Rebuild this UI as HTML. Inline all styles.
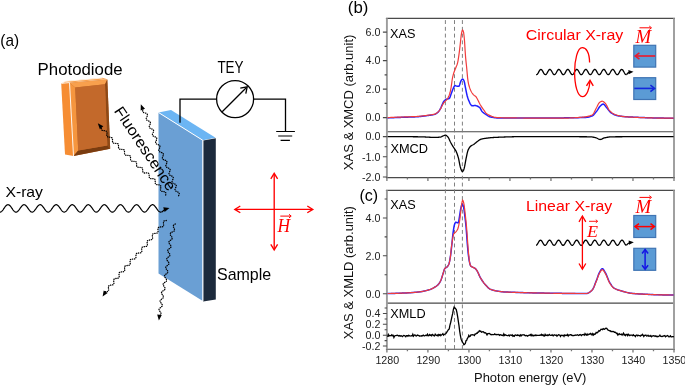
<!DOCTYPE html>
<html><head><meta charset="utf-8"><title>XAS figure</title>
<style>
html,body{margin:0;padding:0;background:#fff;}
body{width:685px;height:385px;overflow:hidden;}
svg{display:block;will-change:transform;}
text{font-family:"Liberation Sans",sans-serif;}
</style></head>
<body>
<svg width="685" height="385" viewBox="0 0 685 385">
<rect width="685" height="385" fill="#fff"/>
<text x="0.3" y="45.8" font-size="17" fill="#000" text-anchor="start" textLength="18.8" lengthAdjust="spacingAndGlyphs" >(a)</text>
<text x="37.6" y="74.5" font-size="15.8" fill="#000" text-anchor="start" textLength="85" lengthAdjust="spacingAndGlyphs" >Photodiode</text>
<text x="217.4" y="72.7" font-size="15.8" fill="#000" text-anchor="start" textLength="26.2" lengthAdjust="spacingAndGlyphs" >TEY</text>
<text x="5.4" y="196.7" font-size="15" fill="#000" text-anchor="start" textLength="37.6" lengthAdjust="spacingAndGlyphs" >X-ray</text>
<text x="217" y="280.1" font-size="16.4" fill="#000" text-anchor="start" textLength="54.2" lengthAdjust="spacingAndGlyphs" >Sample</text>
<polygon points="61.2,83.2 69.5,82.3 73.5,156 65,154.6" fill="#f68d33" />
<polygon points="69.5,82.7 107.3,79.4 110.2,148.8 73.5,156" fill="#c3692b" />
<polygon points="69.5,82.7 107.3,79.4 105,84.2 75.2,87.6" fill="#f8a04d" />
<polygon points="69.5,82.7 75.2,87.6 78.2,150.6 73.5,156" fill="#f5963f" />
<polygon points="107.3,79.4 110.2,148.8 107.3,145.6 105,84.2" fill="#8e4916" />
<polygon points="73.5,156 78.2,150.6 107.3,145.6 110.2,148.8" fill="#7a3c10" />
<polygon points="75.2,87.6 105,84.2 107.3,145.6 78.2,150.6" fill="#c3692b" />
<path d="M69.5,82.3 L73.5,156" stroke="#fff" stroke-width="0.9"/>
<polygon points="61.2,83.4 65.8,81.2 102.5,77.8 107.3,79.2 69.5,82.6" fill="#f9a24f" />
<path d="M62,82.9 L65.8,81.3 L102.5,78" stroke="#fff3e6" stroke-width="0.9" fill="none"/>
<path d="M61.4,83.4 L69.5,82.6" stroke="#fff" stroke-width="0.8" fill="none"/>
<polygon points="158.5,112.5 171,110 215.6,137.8 202.8,140.3" fill="#6cb5f3" />
<polygon points="158.5,112.5 202.8,140.3 202.8,301 158.5,273.6" fill="#6a9fd4" />
<polygon points="203.2,140.6 215.8,138.3 215.8,299.6 203.2,301.4" fill="#1c2a3c" />
<path d="M158.5,112.5 L202.8,140.3 L202.8,301" stroke="#fff" stroke-width="1" fill="none"/>
<path d="M180,122.8 L180,99.1 L216.5,99.1 M253.7,99.1 L285.5,99.1 L285.5,131.5" stroke="#000" stroke-width="1.3" fill="none"/>
<circle cx="235.1" cy="99.1" r="18.5" stroke="#000" stroke-width="1.3" fill="none"/>
<path d="M222.2,111.8 L246.5,87.5" stroke="#000" stroke-width="1.3"/>
<path d="M240.3,88.2 L247.2,86.8 L245.8,93.7" stroke="#000" stroke-width="1.3" fill="none"/>
<path d="M276.2,131.5 L294.9,131.5 M278.2,136 L292.2,136 M280.6,140.4 L289.9,140.4" stroke="#000" stroke-width="1.2"/>
<path d="M0,212.1 L0.4,212.05 L0.8,211.91 L1.2,211.68 L1.6,211.37 L2,210.99 L2.4,210.55 L2.8,210.05 L3.2,209.52 L3.6,208.96 L4,208.38 L4.4,207.8 L4.8,207.24 L5.2,206.71 L5.6,206.21 L6,205.78 L6.4,205.4 L6.8,205.1 L7.2,204.88 L7.6,204.75 L8,204.7 L8.4,204.75 L8.8,204.88 L9.2,205.1 L9.6,205.4 L10,205.78 L10.4,206.21 L10.8,206.71 L11.2,207.24 L11.6,207.8 L12,208.38 L12.4,208.96 L12.8,209.52 L13.2,210.05 L13.6,210.55 L14,210.99 L14.4,211.37 L14.8,211.68 L15.2,211.91 L15.6,212.05 L16,212.1 L16.4,212.06 L16.8,211.93 L17.2,211.72 L17.6,211.42 L18,211.05 L18.4,210.62 L18.8,210.13 L19.2,209.6 L19.6,209.04 L20,208.47 L20.4,207.89 L20.8,207.32 L21.2,206.78 L21.6,206.29 L22,205.84 L22.4,205.45 L22.8,205.14 L23.2,204.91 L23.6,204.76 L24,204.7 L24.4,204.73 L24.8,204.85 L25.2,205.06 L25.6,205.35 L26,205.72 L26.4,206.15 L26.8,206.63 L27.2,207.16 L27.6,207.72 L28,208.29 L28.4,208.87 L28.8,209.44 L29.2,209.98 L29.6,210.48 L30,210.93 L30.4,211.32 L30.8,211.64 L31.2,211.88 L31.6,212.03 L32,212.1 L32.4,212.07 L32.8,211.96 L33.2,211.76 L33.6,211.47 L34,211.11 L34.4,210.69 L34.8,210.21 L35.2,209.68 L35.6,209.13 L36,208.55 L36.4,207.97 L36.8,207.41 L37.2,206.86 L37.6,206.36 L38,205.9 L38.4,205.51 L38.8,205.18 L39.2,204.94 L39.6,204.78 L40,204.7 L40.4,204.72 L40.8,204.83 L41.2,205.03 L41.6,205.3 L42,205.66 L42.4,206.08 L42.8,206.55 L43.2,207.08 L43.6,207.63 L44,208.2 L44.4,208.78 L44.8,209.35 L45.2,209.9 L45.6,210.41 L46,210.87 L46.4,211.27 L46.8,211.6 L47.2,211.85 L47.6,212.01 L48,212.09 L48.4,212.08 L48.8,211.98 L49.2,211.79 L49.6,211.52 L50,211.17 L50.4,210.76 L50.8,210.28 L51.2,209.76 L51.6,209.21 L52,208.64 L52.4,208.06 L52.8,207.49 L53.2,206.94 L53.6,206.43 L54,205.97 L54.4,205.56 L54.8,205.23 L55.2,204.97 L55.6,204.79 L56,204.71 L56.4,204.71 L56.8,204.81 L57.2,204.99 L57.6,205.26 L58,205.6 L58.4,206.01 L58.8,206.48 L59.2,207 L59.6,207.55 L60,208.12 L60.4,208.7 L60.8,209.27 L61.2,209.82 L61.6,210.33 L62,210.8 L62.4,211.21 L62.8,211.55 L63.2,211.81 L63.6,212 L64,212.09 L64.4,212.09 L64.8,212 L65.2,211.83 L65.6,211.57 L66,211.23 L66.4,210.82 L66.8,210.36 L67.2,209.84 L67.6,209.3 L68,208.73 L68.4,208.15 L68.8,207.57 L69.2,207.02 L69.6,206.5 L70,206.03 L70.4,205.62 L70.8,205.27 L71.2,205 L71.6,204.82 L72,204.72 L72.4,204.71 L72.8,204.79 L73.2,204.96 L73.6,205.21 L74,205.54 L74.4,205.94 L74.8,206.41 L75.2,206.92 L75.6,207.46 L76,208.03 L76.4,208.61 L76.8,209.18 L77.2,209.74 L77.6,210.26 L78,210.73 L78.4,211.15 L78.8,211.5 L79.2,211.78 L79.6,211.97 L80,212.08 L80.4,212.1 L80.8,212.02 L81.2,211.86 L81.6,211.61 L82,211.28 L82.4,210.89 L82.8,210.43 L83.2,209.92 L83.6,209.38 L84,208.81 L84.4,208.23 L84.8,207.66 L85.2,207.1 L85.6,206.58 L86,206.1 L86.4,205.68 L86.8,205.32 L87.2,205.04 L87.6,204.84 L88,204.73 L88.4,204.7 L88.8,204.77 L89.2,204.93 L89.6,205.17 L90,205.49 L90.4,205.88 L90.8,206.33 L91.2,206.84 L91.6,207.38 L92,207.95 L92.4,208.52 L92.8,209.1 L93.2,209.66 L93.6,210.18 L94,210.67 L94.4,211.09 L94.8,211.46 L95.2,211.74 L95.6,211.95 L96,212.07 L96.4,212.1 L96.8,212.04 L97.2,211.89 L97.6,211.65 L98,211.34 L98.4,210.95 L98.8,210.5 L99.2,210 L99.6,209.46 L100,208.9 L100.4,208.32 L100.8,207.74 L101.2,207.19 L101.6,206.66 L102,206.17 L102.4,205.74 L102.8,205.37 L103.2,205.07 L103.6,204.86 L104,204.74 L104.4,204.7 L104.8,204.75 L105.2,204.9 L105.6,205.13 L106,205.44 L106.4,205.82 L106.8,206.26 L107.2,206.76 L107.6,207.3 L108,207.86 L108.4,208.44 L108.8,209.01 L109.2,209.57 L109.6,210.11 L110,210.6 L110.4,211.03 L110.8,211.41 L111.2,211.71 L111.6,211.92 L112,212.06 L112.4,212.1 L112.8,212.05 L113.2,211.92 L113.6,211.69 L114,211.39 L114.4,211.01 L114.8,210.57 L115.2,210.08 L115.6,209.55 L116,208.98 L116.4,208.41 L116.8,207.83 L117.2,207.27 L117.6,206.73 L118,206.24 L118.4,205.8 L118.8,205.42 L119.2,205.11 L119.6,204.89 L120,204.75 L120.4,204.7 L120.8,204.74 L121.2,204.87 L121.6,205.09 L122,205.38 L122.4,205.76 L122.8,206.19 L123.2,206.68 L123.6,207.21 L124,207.77 L124.4,208.35 L124.8,208.93 L125.2,209.49 L125.6,210.03 L126,210.53 L126.4,210.97 L126.8,211.36 L127.2,211.67 L127.6,211.9 L128,212.04 L128.4,212.1 L128.8,212.07 L129.2,211.94 L129.6,211.73 L130,211.44 L130.4,211.07 L130.8,210.64 L131.2,210.16 L131.6,209.63 L132,209.07 L132.4,208.49 L132.8,207.92 L133.2,207.35 L133.6,206.81 L134,206.31 L134.4,205.86 L134.8,205.47 L135.2,205.15 L135.6,204.92 L136,204.77 L136.4,204.7 L136.8,204.73 L137.2,204.85 L137.6,205.05 L138,205.34 L138.4,205.7 L138.8,206.12 L139.2,206.6 L139.6,207.13 L140,207.69 L140.4,208.26 L140.8,208.84 L141.2,209.41 L141.6,209.95 L142,210.45 L142.4,210.91 L142.8,211.3 L143.2,211.62 L143.6,211.87 L144,212.03 L144.4,212.1 L144.8,212.08 L145.2,211.97 L145.6,211.77 L146,211.49 L146.4,211.13 L146.8,210.71 L147.2,210.23 L147.6,209.71 L148,209.15 L148.4,208.58 L148.8,208 L149.2,207.43 L149.6,206.89 L150,206.38 L150.4,205.92 L150.8,205.52 L151.2,205.2 L151.6,204.95 L152,204.78 L152.4,204.71 L152.8,204.72 L153.2,204.82 L153.6,205.01 L154,205.29 L154.4,205.64 L154.8,206.05 L155.2,206.53 L155.6,207.05 L156,207.6 L156.4,208.18 L156.8,208.75 L157.2,209.32 L157.6,209.87 L158,210.38 L158.4,210.84 L158.8,211.25 L159.2,211.58 L159.6,211.84 L160,212.01 L160.4,212.09 L160.8,212.09 L161.2,211.99 L161.6,211.8" stroke="#000" stroke-width="1.2" fill="none"/>
<path d="M161.8,212.1 Q163.5,210.5 165.5,209" stroke="#000" stroke-width="1.2" fill="none"/>
<path d="M169.5,208 L164.6,211.99 L163.24,207.18 Z" fill="#000"/>
<path d="M165.7,195 L165.77,194.58 L165.83,194.16 L165.86,193.76 L165.87,193.39 L165.82,193.05 L165.73,192.74 L165.59,192.48 L165.39,192.25 L165.13,192.07 L164.83,191.92 L164.48,191.8 L164.09,191.71 L163.68,191.64 L163.26,191.58 L162.83,191.52 L162.42,191.46 L162.02,191.37 L161.66,191.27 L161.34,191.13 L161.07,190.96 L160.85,190.75 L160.68,190.49 L160.57,190.2 L160.52,189.87 L160.5,189.51 L160.53,189.12 L160.58,188.71 L160.65,188.29 L160.72,187.86 L160.79,187.44 L160.83,187.04 L160.84,186.66 L160.82,186.3 L160.74,185.99 L160.61,185.71 L160.43,185.47 L160.2,185.27 L159.91,185.11 L159.57,184.99 L159.2,184.89 L158.79,184.81 L158.37,184.75 L157.95,184.69 L157.55,184.69 L157.14,184.68 L156.75,184.64 L156.4,184.56 L156.1,184.44 L155.83,184.28 L155.62,184.07 L155.45,183.82 L155.33,183.51 L155.25,183.17 L155.21,182.79 L155.19,182.38 L155.2,181.96 L155.21,181.53 L155.21,181.1 L155.2,180.69 L155.17,180.3 L155.1,179.94 L155,179.62 L154.85,179.35 L154.65,179.12 L154.4,178.95 L154.11,178.81 L153.77,178.73 L153.4,178.67 L152.99,178.65 L152.57,178.64 L152.14,178.65 L151.71,178.65 L151.3,178.64 L150.9,178.61 L150.54,178.54 L150.22,178.44 L149.94,178.3 L149.71,178.1 L149.52,177.86 L149.39,177.57 L149.3,177.24 L149.24,176.87 L149.22,176.47 L149.22,176.06 L149.22,175.63 L149.18,175.2 L149.14,174.79 L149.08,174.39 L148.99,174.03 L148.86,173.71 L148.7,173.44 L148.49,173.22 L148.24,173.05 L147.95,172.93 L147.62,172.86 L147.25,172.83 L146.86,172.84 L146.44,172.87 L146.02,172.92 L145.59,172.96 L145.17,173 L144.76,173.02 L144.39,173 L144.04,172.95 L143.74,172.85 L143.47,172.7 L143.25,172.49 L143.08,172.24 L142.94,171.93 L142.84,171.58 L142.77,171.2 L142.72,170.79 L142.68,170.36 L142.65,169.93 L142.6,169.51 L142.55,169.11 L142.47,168.73 L142.45,168.45 L142.33,168.15 L142.16,167.9 L141.95,167.69 L141.68,167.53 L141.37,167.42 L141.02,167.34 L140.64,167.3 L140.23,167.29 L139.8,167.29 L139.37,167.3 L138.94,167.31 L138.53,167.29 L138.15,167.25 L137.8,167.18 L137.49,167.07 L137.22,166.91 L137.01,166.7 L136.84,166.45 L136.71,166.14 L136.63,165.8 L136.59,165.42 L136.57,165.01 L136.57,164.59 L136.57,164.16 L136.57,163.73 L136.56,163.32 L136.52,162.93 L136.46,162.57 L136.35,162.26 L136.19,161.98 L135.99,161.76 L135.74,161.59 L135.45,161.46 L135.11,161.37 L134.74,161.32 L134.33,161.3 L133.91,161.3 L133.48,161.31 L133.05,161.31 L132.64,161.31 L132.24,161.28 L131.88,161.22 L131.56,161.12 L131.28,160.98 L131.04,160.78 L130.86,160.54 L130.72,160.26 L130.63,159.93 L130.57,159.56 L130.54,159.16 L130.54,158.74 L130.54,158.31 L130.54,157.88 L130.54,157.46 L130.51,157.06 L130.45,156.7 L130.36,156.37 L130.22,156.08 L130.04,155.84 L129.8,155.65 L129.52,155.5 L129.2,155.4 L128.84,155.34 L128.44,155.32 L128.03,155.31 L127.6,155.31 L127.17,155.32 L126.74,155.32 L126.34,155.3 L125.97,155.25 L125.63,155.17 L125.33,155.04 L125.08,154.86 L124.88,154.63 L124.73,154.36 L124.62,154.05 L124.56,153.69 L124.52,153.3 L124.51,152.89 L124.51,152.46 L124.52,152.03 L124.52,151.6 L124.5,151.2 L124.46,150.82 L124.38,150.47 L124.25,150.17 L124.09,149.92 L123.87,149.71 L123.61,149.55 L123.3,149.43 L122.95,149.36 L122.56,149.32 L122.15,149.3 L121.73,149.31 L121.29,149.31 L120.87,149.32 L120.46,149.3 L120.07,149.26 L119.72,149.19 L119.41,149.07 L119.15,148.91 L118.93,148.7 L118.77,148.45 L118.64,148.15 L118.56,147.8 L118.52,147.42 L118.5,147.02 L118.5,146.59 L118.51,146.16 L118.51,145.73 L118.5,145.32 L118.46,144.93 L118.4,144.57 L118.29,144.26 L118.14,143.99 L117.94,143.76 L117.69,143.58 L117.39,143.46 L117.06,143.37 L116.68,143.32 L116.28,143.3 L115.86,143.29 L115.43,143.3 L115,143.31 L114.58,143.3 L114.19,143.27 L113.83,143.21 L113.5,143.11 L113.22,142.96 L112.99,142.77 L112.81,142.53 L112.67,142.24 L112.58,141.91 L112.52,141.54 L112.49,141.14 L112.49,140.72 L112.49,140.29 L112.5,139.86 L112.49,139.45 L112.47,139.05 L112.41,138.68 L112.32,138.35 L112.18,138.06 L112,137.82 L111.77,137.63 L111.56,137.56 L111.25,137.43 L110.89,137.34 L110.5,137.28 L110.09,137.24 L109.66,137.2 L109.23,137.17 L108.81,137.13 L108.41,137.08 L108.04,137 L107.71,136.88 L107.43,136.73 L107.2,136.53 L107.02,136.29 L106.89,136.01 L106.81,135.68 L106.77,135.32 L106.77,134.93 L106.8,134.52 L106.84,134.09 L106.88,133.66 L106.92,133.24 L106.93,132.83 L106.92,132.45 L106.87,132.1 L106.77,131.79 L106.63,131.52 L106.43,131.29 L106.18,131.11 L105.88,130.97 L105.54,130.87 L105.16,130.8 L104.75,130.75 L104.33,130.71 L103.9,130.68 L103.47,130.65 L103.07,130.6 L102.69,130.53 L102.34,130.42 L102.04,130.28 L101.79,130.1 L101.6,129.87 L101.45,129.6 L101.36,129.29 L101.31,128.94 L101.29,128.56 L101.31,128.15 L101.35,127.73 L101.39,127.3 L101.43,126.88" stroke="#000" stroke-width="1.3" fill="none" stroke-dasharray="0.35 1.75" stroke-linecap="round"/>
<path d="M97.8,123.3 L103.33,126.18 L99.85,129.19 Z" fill="#000"/>
<path d="M178.6,195.7 L178.78,195.31 L178.95,194.93 L179.1,194.55 L179.2,194.2 L179.25,193.86 L179.25,193.54 L179.18,193.24 L179.05,192.97 L178.85,192.72 L178.6,192.5 L178.29,192.29 L177.95,192.1 L177.57,191.92 L177.18,191.75 L176.79,191.57 L176.4,191.4 L176.05,191.21 L175.73,191.01 L175.46,190.79 L175.24,190.55 L175.09,190.29 L175,190 L174.98,189.69 L175.01,189.35 L175.1,189 L175.23,188.63 L175.39,188.25 L175.57,187.87 L175.75,187.48 L175.93,187.09 L176.08,186.71 L176.2,186.35 L176.27,186 L176.28,185.68 L176.24,185.37 L176.13,185.1 L175.95,184.84 L175.72,184.61 L175.43,184.39 L175.1,184.2 L174.73,184.02 L174.34,183.84 L173.95,183.67 L173.56,183.49 L173.19,183.31 L172.86,183.11 L172.57,182.9 L172.34,182.67 L172.16,182.41 L172.05,182.13 L172.01,181.83 L172.02,181.5 L172.09,181.16 L172.21,180.79 L172.36,180.42 L172.54,180.03 L172.72,179.64 L172.9,179.25 L173.06,178.87 L173.19,178.5 L173.28,178.15 L173.32,177.82 L173.28,177.48 L173.18,177.19 L173.02,176.93 L172.8,176.7 L172.53,176.49 L172.2,176.29 L171.84,176.11 L171.46,175.95 L171.06,175.78 L170.66,175.62 L170.28,175.45 L169.93,175.26 L169.62,175.06 L169.36,174.84 L169.16,174.6 L169.03,174.33 L168.95,174.04 L168.94,173.72 L168.98,173.38 L169.08,173.02 L169.21,172.64 L169.37,172.26 L169.55,171.86 L169.72,171.47 L169.88,171.08 L170.01,170.71 L170.11,170.35 L170.15,170.01 L170.14,169.69 L170.07,169.39 L169.93,169.13 L169.73,168.88 L169.47,168.66 L169.16,168.46 L168.81,168.28 L168.43,168.11 L168.03,167.94 L167.64,167.78 L167.25,167.61 L166.89,167.43 L166.56,167.24 L166.29,167.03 L166.07,166.79 L165.91,166.53 L165.81,166.25 L165.78,165.94 L165.81,165.6 L165.88,165.25 L166.01,164.88 L166.16,164.49 L166.33,164.1 L166.51,163.71 L166.67,163.32 L166.82,162.94 L166.9,162.52 L166.94,162.17 L166.93,161.85 L166.87,161.55 L166.74,161.28 L166.54,161.04 L166.29,160.82 L165.99,160.63 L165.64,160.46 L165.26,160.31 L164.86,160.16 L164.45,160.02 L164.05,159.87 L163.67,159.72 L163.33,159.55 L163.02,159.36 L162.77,159.14 L162.58,158.9 L162.45,158.63 L162.38,158.33 L162.37,158.01 L162.41,157.66 L162.5,157.29 L162.63,156.9 L162.77,156.5 L162.93,156.1 L163.08,155.7 L163.21,155.31 L163.31,154.93 L163.37,154.57 L163.38,154.24 L163.33,153.93 L163.22,153.65 L163.05,153.4 L162.82,153.17 L162.53,152.98 L162.2,152.8 L161.83,152.64 L161.43,152.49 L161.03,152.35 L160.62,152.21 L160.24,152.05 L159.88,151.89 L159.56,151.71 L159.29,151.5 L159.08,151.27 L158.92,151.01 L158.83,150.72 L158.79,150.34 L158.83,150 L158.92,149.64 L159.05,149.26 L159.21,148.88 L159.39,148.48 L159.56,148.09 L159.72,147.7 L159.85,147.32 L159.94,146.96 L159.99,146.62 L159.97,146.3 L159.9,146.01 L159.76,145.74 L159.56,145.5 L159.3,145.28 L158.99,145.08 L158.64,144.9 L158.26,144.73 L157.86,144.57 L157.46,144.41 L157.07,144.24 L156.71,144.06 L156.39,143.87 L156.11,143.66 L155.89,143.43 L155.73,143.17 L155.63,142.88 L155.6,142.57 L155.62,142.24 L155.7,141.88 L155.82,141.51 L155.97,141.13 L156.14,140.73 L156.32,140.34 L156.48,139.95 L156.62,139.57 L156.73,139.2 L156.79,138.85 L156.8,138.53 L156.74,138.23 L156.62,137.95 L156.44,137.7 L156.2,137.47 L155.91,137.27 L155.57,137.08 L155.2,136.91 L154.81,136.74 L154.41,136.58 L154.01,136.42 L153.64,136.24 L153.3,136.06 L153.01,135.85 L152.77,135.62 L152.59,135.37 L152.47,135.1 L152.42,134.8 L152.42,134.47 L152.48,134.12 L152.59,133.76 L152.73,133.37 L152.9,132.98 L153.08,132.59 L153.25,132.2 L153.4,131.81 L153.52,131.44 L153.59,131.09 L153.62,130.75 L153.59,130.44 L153.49,130.16 L153.33,129.9 L153.11,129.67 L152.83,129.45 L152.51,129.26 L152.15,129.08 L151.76,128.92 L151.36,128.75 L150.96,128.59 L150.58,128.42 L150.23,128.24 L149.92,128.04 L149.66,127.82 L149.46,127.58 L149.33,127.31 L149.25,127.02 L149.24,126.7 L149.28,126.36 L149.37,126 L149.51,125.62 L149.66,125.23 L149.84,124.84 L150.01,124.44 L150.17,124.06 L150.3,123.68 L150.41,123.34 L150.46,123 L150.45,122.68 L150.38,122.38 L150.25,122.11 L150.05,121.87 L149.8,121.64 L149.49,121.44 L149.14,121.25 L148.77,121.07 L148.37,120.9 L147.98,120.73 L147.6,120.56 L147.24,120.37 L146.92,120.17 L146.64,119.96 L146.43,119.72 L146.27,119.46 L146.18,119.17 L146.15,118.86 L146.19,118.52 L146.27,118.17 L146.4,117.8 L146.56,117.42 L146.73,117.03 L146.92,116.64 L147.09,116.25 L147.24,115.88 L147.35,115.51 L147.42,115.16 L147.43,114.84 L147.39,114.54 L147.27,114.26 L147.1,114 L146.86,113.77 L146.57,113.56 L146.24,113.37 L145.81,113.13 L145.39,113.03 L144.97,112.93 L144.56,112.83 L144.17,112.72 L143.8,112.59 L143.48,112.43 L143.21,112.24 L142.99,112.03 L142.83,111.77 L142.73,111.48 L142.68,111.16 L142.69,110.81 L142.73,110.43 L142.81,110.03 L142.91,109.62 L143.02,109.2 L143.13,108.79 L143.22,108.38 L143.28,108 L143.3,107.63" stroke="#000" stroke-width="1.3" fill="none" stroke-dasharray="0.35 1.75" stroke-linecap="round"/>
<path d="M140.8,104.2 L144.99,108.82 L140.68,110.44 Z" fill="#000"/>
<path d="M166.3,220.5 L165.87,220.53 L165.45,220.56 L165.06,220.62 L164.69,220.7 L164.37,220.82 L164.1,220.98 L163.87,221.18 L163.7,221.43 L163.57,221.72 L163.5,222.05 L163.46,222.41 L163.46,222.81 L163.49,223.23 L163.52,223.65 L163.56,224.08 L163.59,224.5 L163.6,224.91 L163.58,225.28 L163.52,225.63 L163.41,225.93 L163.26,226.19 L163.05,226.41 L162.79,226.58 L162.48,226.71 L162.13,226.8 L161.74,226.87 L161.33,226.91 L160.91,226.94 L160.48,226.97 L160.05,227 L159.65,227.05 L159.27,227.12 L158.94,227.23 L158.64,227.37 L158.4,227.56 L158.21,227.79 L158.07,228.06 L157.98,228.38 L157.93,228.73 L157.92,229.12 L157.94,229.53 L157.97,229.95 L158.01,230.38 L158.04,230.81 L158.05,231.22 L158.04,231.6 L157.99,231.96 L157.9,232.28 L157.76,232.55 L157.57,232.78 L157.32,232.97 L157.03,233.11 L156.69,233.21 L156.32,233.29 L155.91,233.33 L155.49,233.36 L155.06,233.39 L154.63,233.41 L154.22,233.46 L153.84,233.52 L153.49,233.61 L153.18,233.74 L152.92,233.91 L152.71,234.13 L152.55,234.39 L152.44,234.69 L152.38,235.03 L152.36,235.41 L152.36,235.81 L152.39,236.23 L152.44,236.67 L152.5,237.09 L152.55,237.51 L152.57,237.9 L152.55,238.27 L152.5,238.6 L152.39,238.9 L152.23,239.15 L152.02,239.37 L151.75,239.54 L151.44,239.68 L151.08,239.78 L150.69,239.86 L150.27,239.92 L149.84,239.97 L149.42,240.02 L149,240.08 L148.61,240.16 L148.25,240.27 L147.94,240.4 L147.67,240.58 L147.46,240.79 L147.3,241.05 L147.19,241.34 L147.14,241.68 L147.12,242.04 L147.14,242.44 L147.19,242.85 L147.25,243.28 L147.32,243.7 L147.37,244.12 L147.4,244.52 L147.4,244.9 L147.36,245.25 L147.27,245.56 L147.13,245.83 L146.86,246.11 L146.6,246.28 L146.29,246.41 L145.94,246.5 L145.55,246.56 L145.14,246.6 L144.71,246.63 L144.28,246.65 L143.86,246.68 L143.46,246.72 L143.08,246.79 L142.74,246.89 L142.45,247.04 L142.2,247.22 L142.01,247.45 L141.87,247.72 L141.78,248.04 L141.73,248.4 L141.71,248.78 L141.72,249.19 L141.75,249.62 L141.79,250.05 L141.82,250.47 L141.83,250.88 L141.82,251.27 L141.77,251.62 L141.67,251.94 L141.53,252.21 L141.34,252.44 L141.1,252.63 L140.8,252.77 L140.46,252.87 L140.09,252.94 L139.68,252.99 L139.26,253.02 L138.83,253.03 L138.4,253.02 L137.99,253.03 L137.6,253.07 L137.24,253.14 L136.92,253.24 L136.65,253.4 L136.43,253.6 L136.25,253.84 L136.12,254.14 L136.04,254.48 L135.99,254.85 L135.96,255.25 L135.96,255.67 L135.97,256.11 L135.97,256.53 L135.96,256.95 L135.93,257.34 L135.87,257.71 L135.77,258.03 L135.63,258.31 L135.44,258.54 L135.2,258.73 L134.91,258.86 L134.58,258.96 L134.21,259.01 L133.81,259.04 L133.39,259.04 L132.96,259.04 L132.53,259.03 L132.11,259.04 L131.71,259.06 L131.35,259.12 L130.95,259.31 L130.67,259.47 L130.45,259.67 L130.28,259.92 L130.16,260.21 L130.09,260.55 L130.06,260.91 L130.07,261.31 L130.1,261.72 L130.14,262.15 L130.19,262.58 L130.22,263 L130.24,263.4 L130.22,263.78 L130.17,264.12 L130.06,264.43 L129.91,264.69 L129.71,264.91 L129.45,265.09 L129.14,265.22 L128.79,265.32 L128.41,265.39 L128,265.44 L127.57,265.48 L127.14,265.51 L126.72,265.55 L126.33,265.58 L125.95,265.65 L125.61,265.76 L125.32,265.9 L125.07,266.08 L124.88,266.31 L124.74,266.59 L124.65,266.9 L124.6,267.26 L124.58,267.64 L124.59,268.05 L124.62,268.48 L124.66,268.91 L124.69,269.33 L124.7,269.74 L124.69,270.13 L124.64,270.49 L124.55,270.8 L124.4,271.08 L124.21,271.31 L123.97,271.49 L123.67,271.63 L123.33,271.73 L122.96,271.8 L122.55,271.85 L122.13,271.88 L121.7,271.9 L121.27,271.93 L120.86,271.96 L120.48,272.02 L120.12,272.12 L119.81,272.24 L119.55,272.41 L119.34,272.63 L119.18,272.89 L119.04,273.23 L118.99,273.58 L118.98,273.95 L119.01,274.36 L119.05,274.78 L119.1,275.2 L119.16,275.63 L119.19,276.04 L119.21,276.44 L119.19,276.81 L119.12,277.14 L119.01,277.43 L118.84,277.69 L118.63,277.9 L118.35,278.06 L118.04,278.19 L117.68,278.29 L117.28,278.36 L116.87,278.41 L116.44,278.45 L116.01,278.49 L115.6,278.54 L115.2,278.61 L114.84,278.71 L114.52,278.84 L114.25,279.01 L114.03,279.22 L113.87,279.47 L113.76,279.76 L113.69,280.1 L113.67,280.46 L113.68,280.86 L113.72,281.27 L113.78,281.7 L113.83,282.13 L113.88,282.55 L113.91,282.95 L113.9,283.33 L113.86,283.67 L113.76,283.98 L113.62,284.25 L113.42,284.47 L113.17,284.66 L112.87,284.8 L112.52,284.91 L112.14,284.99 L111.73,285.05 L111.3,285.1 L110.87,285.14 L110.45,285.19 L110.05,285.26 L109.68,285.35 L109.35,285.47 L109.06,285.63 L108.83,285.83 L108.65,286.06 L108.52,286.35 L108.44,286.67 L108.41,287.02 L108.42,287.41 L108.45,287.82 L108.51,288.24 L108.56,288.67 L108.6,289.1 L108.62,289.51 L108.61,289.89 L108.57,290.25 L108.48,290.57 L108.34,290.84 L108.15,291.08 L107.91,291.26 L107.62,291.41 L107.29,291.52 L106.91,291.6 L106.51,291.65 L106.09,291.69 L105.66,291.72 L105.23,291.75 L104.82,291.8" stroke="#000" stroke-width="1.3" fill="none" stroke-dasharray="0.35 1.75" stroke-linecap="round"/>
<path d="M102.6,296.6 L103.74,290.46 L107.63,292.91 Z" fill="#000"/>
<path d="M175.4,224 L175.01,224.17 L174.63,224.35 L174.27,224.54 L173.96,224.74 L173.7,224.96 L173.49,225.21 L173.35,225.47 L173.27,225.76 L173.26,226.08 L173.3,226.41 L173.39,226.77 L173.53,227.14 L173.69,227.52 L173.87,227.91 L174.06,228.3 L174.23,228.69 L174.37,229.06 L174.48,229.42 L174.54,229.77 L174.55,230.09 L174.49,230.39 L174.37,230.66 L174.18,230.91 L173.94,231.14 L173.64,231.35 L173.3,231.54 L172.93,231.73 L172.54,231.9 L172.14,232.07 L171.76,232.25 L171.4,232.43 L171.07,232.63 L170.79,232.84 L170.56,233.08 L170.4,233.34 L170.3,233.62 L170.26,233.93 L170.29,234.26 L170.32,234.82 L170.52,235.15 L170.76,235.48 L171.01,235.82 L171.28,236.16 L171.54,236.5 L171.77,236.84 L171.97,237.17 L172.12,237.49 L172.22,237.81 L172.25,238.12 L172.21,238.42 L172.11,238.7 L171.94,238.98 L171.71,239.25 L171.44,239.52 L171.12,239.78 L170.78,240.03 L170.44,240.29 L170.09,240.54 L169.77,240.8 L169.48,241.06 L169.23,241.33 L169.05,241.61 L168.92,241.89 L168.86,242.19 L168.87,242.49 L168.94,242.8 L169.08,243.12 L169.26,243.45 L169.49,243.79 L169.74,244.13 L170,244.47 L170.26,244.81 L170.51,245.14 L170.72,245.48 L170.89,245.8 L171.01,246.12 L171.06,246.43 L171.04,246.73 L170.96,247.03 L170.82,247.31 L170.61,247.58 L170.35,247.85 L170.04,248.11 L169.71,248.36 L169.37,248.62 L169.02,248.87 L168.69,249.13 L168.38,249.39 L168.12,249.66 L167.91,249.93 L167.77,250.21 L167.69,250.54 L167.68,250.84 L167.74,251.15 L167.86,251.46 L168.04,251.79 L168.26,252.11 L168.51,252.45 L168.78,252.78 L169.06,253.11 L169.32,253.44 L169.55,253.77 L169.74,254.1 L169.89,254.42 L169.97,254.73 L169.98,255.03 L169.93,255.33 L169.81,255.62 L169.63,255.9 L169.4,256.17 L169.11,256.44 L168.79,256.71 L168.46,256.97 L168.12,257.23 L167.78,257.5 L167.48,257.76 L167.21,258.03 L166.99,258.31 L166.83,258.59 L166.73,258.88 L166.7,259.18 L166.74,259.49 L166.84,259.8 L167,260.12 L167.21,260.45 L167.45,260.78 L167.72,261.11 L167.99,261.45 L168.26,261.78 L168.5,262.11 L168.71,262.43 L168.87,262.75 L168.97,263.07 L169.01,263.37 L168.98,263.67 L168.89,263.96 L168.73,264.25 L168.51,264.52 L168.24,264.8 L167.93,265.06 L167.6,265.33 L167.25,265.59 L166.92,265.85 L166.6,266.1 L166.31,266.36 L166.07,266.63 L165.88,266.9 L165.75,267.19 L165.69,267.48 L165.7,267.79 L165.77,268.1 L165.91,268.42 L166.09,268.75 L166.32,269.09 L166.57,269.43 L166.83,269.77 L167.09,270.11 L167.34,270.44 L167.55,270.78 L167.72,271.1 L167.83,271.42 L167.89,271.73 L167.87,272.04 L167.79,272.33 L167.64,272.61 L167.43,272.88 L167.17,273.15 L166.87,273.41 L166.54,273.66 L166.19,273.92 L165.84,274.17 L165.51,274.43 L165.21,274.69 L164.95,274.95 L164.74,275.23 L164.59,275.51 L164.51,275.8 L164.5,276.1 L164.55,276.41 L164.66,276.73 L164.83,277.06 L165.04,277.39 L165.29,277.73 L165.55,278.07 L165.81,278.41 L166.06,278.75 L166.29,279.08 L166.47,279.41 L166.61,279.73 L166.68,280.05 L166.69,280.35 L166.63,280.65 L166.5,280.93 L166.31,281.21 L166.07,281.48 L165.77,281.78 L165.43,282.01 L165.08,282.25 L164.71,282.48 L164.36,282.72 L164.03,282.96 L163.74,283.21 L163.5,283.47 L163.32,283.73 L163.2,284.02 L163.15,284.31 L163.16,284.62 L163.24,284.94 L163.37,285.27 L163.55,285.62 L163.77,285.96 L164,286.32 L164.25,286.67 L164.49,287.03 L164.7,287.37 L164.88,287.72 L165.02,288.05 L165.09,288.37 L165.11,288.68 L165.06,288.97 L164.94,289.26 L164.75,289.53 L164.51,289.78 L164.22,290.03 L163.89,290.27 L163.54,290.51 L163.18,290.74 L162.82,290.98 L162.48,291.22 L162.18,291.46 L161.92,291.72 L161.72,291.98 L161.57,292.26 L161.5,292.55 L161.49,292.85 L161.55,293.17 L161.66,293.5 L161.83,293.84 L162.03,294.19 L162.27,294.54 L162.51,294.89 L162.75,295.25 L162.98,295.6 L163.17,295.94 L163.32,296.28 L163.42,296.6 L163.45,296.91 L163.42,297.21 L163.34,297.41 L163.2,297.69 L163,297.97 L162.74,298.24 L162.44,298.5 L162.11,298.76 L161.77,299.02 L161.42,299.28 L161.09,299.54 L160.8,299.8 L160.54,300.07 L160.33,300.35 L160.19,300.63 L160.11,300.93 L160.1,301.23 L160.16,301.54 L160.28,301.86 L160.45,302.18 L160.67,302.51 L160.92,302.84 L161.18,303.18 L161.45,303.52 L161.71,303.85 L161.94,304.18 L162.12,304.51 L162.26,304.83 L162.34,305.14 L162.35,305.45 L162.3,305.74 L162.18,306.03 L161.99,306.31 L161.75,306.58 L161.46,306.85 L161.14,307.11 L160.8,307.37 L160.46,307.62 L160.12,307.88 L159.81,308.15 L159.54,308.41 L159.32,308.69 L159.15,308.97 L159.05,309.26 L159.03,309.5 L159.05,309.81 L159.13,310.13 L159.27,310.45 L159.46,310.79 L159.69,311.13 L159.94,311.48 L160.19,311.83 L160.44,312.18 L160.66,312.52 L160.85,312.86 L160.99,313.19 L161.08,313.5 L161.1,313.81 L161.05,314.11 L160.94,314.39 L160.76,314.67 L160.53,314.93 L160.25,315.19 L159.92,315.44" stroke="#000" stroke-width="1.3" fill="none" stroke-dasharray="0.35 1.75" stroke-linecap="round"/>
<path d="M158.9,320.5 L157.19,314.5 L161.77,314.96 Z" fill="#000"/>
<text transform="translate(113.6,111.1) rotate(56.0)" font-size="15.4" textLength="97.5" lengthAdjust="spacingAndGlyphs">Fluorescence</text>
<path d="M274.2,174 L274.2,249 M235.5,209.4 L312,209.4" stroke="#ff0000" stroke-width="1.35"/>
<path d="M277.6,178.8 L274.2,173.3 L270.8,178.8" fill="none" stroke="#ff0000" stroke-width="1.35" stroke-linejoin="miter"/>
<path d="M270.8,244.4 L274.2,249.9 L277.6,244.4" fill="none" stroke="#ff0000" stroke-width="1.35" stroke-linejoin="miter"/>
<path d="M240.3,206 L234.8,209.4 L240.3,212.8" fill="none" stroke="#ff0000" stroke-width="1.35" stroke-linejoin="miter"/>
<path d="M307.3,212.8 L312.8,209.4 L307.3,206" fill="none" stroke="#ff0000" stroke-width="1.35" stroke-linejoin="miter"/>
<text x="277.6" y="231.7" style="font-family:Liberation Serif,serif;font-style:italic" font-size="18.2" fill="#ff0000" textLength="12.6" lengthAdjust="spacingAndGlyphs">H</text>
<path d="M280.3,216.1 L290.6,216.1" stroke="#ff0000" stroke-width="1"/>
<path d="M289,217.9 L291.2,216.1 L289,214.3" fill="none" stroke="#ff0000" stroke-width="1" stroke-linejoin="miter"/>
<path d="M385.9,18.35 L675.0,18.35 M386.9,131.7 L674.0,131.7 M385.9,177.6 L675.0,177.6" stroke="#4a4a4a" stroke-width="1.15"/>
<path d="M386.9,18.35 L386.9,177.6 M674.0,18.35 L674.0,177.6" stroke="#9c9c9c" stroke-width="1.9"/>
<path d="M386.9,177.6 L386.9,181 M407.41,177.6 L407.41,179.6 M427.91,177.6 L427.91,181 M448.42,177.6 L448.42,179.6 M468.93,177.6 L468.93,181 M489.43,177.6 L489.43,179.6 M509.94,177.6 L509.94,181 M530.45,177.6 L530.45,179.6 M550.96,177.6 L550.96,181 M571.46,177.6 L571.46,179.6 M591.97,177.6 L591.97,181 M612.48,177.6 L612.48,179.6 M632.98,177.6 L632.98,181 M653.49,177.6 L653.49,179.6 M674,177.6 L674,181" stroke="#777" stroke-width="1.3"/>
<path d="M385.9,190.3 L675.0,190.3 M386.9,303.1 L674.0,303.1 M385.9,349.2 L675.0,349.2" stroke="#4a4a4a" stroke-width="1.15"/>
<path d="M386.9,190.3 L386.9,349.2 M674.0,190.3 L674.0,349.2" stroke="#9c9c9c" stroke-width="1.9"/>
<path d="M386.9,349.2 L386.9,352.6 M407.41,349.2 L407.41,351.2 M427.91,349.2 L427.91,352.6 M448.42,349.2 L448.42,351.2 M468.93,349.2 L468.93,352.6 M489.43,349.2 L489.43,351.2 M509.94,349.2 L509.94,352.6 M530.45,349.2 L530.45,351.2 M550.96,349.2 L550.96,352.6 M571.46,349.2 L571.46,351.2 M591.97,349.2 L591.97,352.6 M612.48,349.2 L612.48,351.2 M632.98,349.2 L632.98,352.6 M653.49,349.2 L653.49,351.2 M674,349.2 L674,352.6" stroke="#777" stroke-width="1.3"/>
<path d="M382.9,117.6 L386.9,117.6 M382.9,89.1 L386.9,89.1 M382.9,60.6 L386.9,60.6 M382.9,32.1 L386.9,32.1 M384.6,103.35 L386.9,103.35 M384.6,74.85 L386.9,74.85 M384.6,46.35 L386.9,46.35" stroke="#4a4a4a" stroke-width="1.05"/>
<text x="380.4" y="121.4" font-size="10.7" fill="#222" text-anchor="end" >0.0</text>
<text x="380.4" y="92.9" font-size="10.7" fill="#222" text-anchor="end" >2.0</text>
<text x="380.4" y="64.4" font-size="10.7" fill="#222" text-anchor="end" >4.0</text>
<text x="380.4" y="35.9" font-size="10.7" fill="#222" text-anchor="end" >6.0</text>
<path d="M382.9,136.6 L386.9,136.6 M382.9,156.8 L386.9,156.8 M382.9,177 L386.9,177 M384.6,146.7 L386.9,146.7 M384.6,166.9 L386.9,166.9" stroke="#4a4a4a" stroke-width="1.05"/>
<text x="380.4" y="140.4" font-size="10.7" fill="#222" text-anchor="end" >0.0</text>
<text x="380.4" y="160.6" font-size="10.7" fill="#222" text-anchor="end" >-1.0</text>
<text x="380.4" y="180.8" font-size="10.7" fill="#222" text-anchor="end" >-2.0</text>
<path d="M382.9,293.7 L386.9,293.7 M382.9,255.8 L386.9,255.8 M382.9,217.9 L386.9,217.9 M384.6,274.75 L386.9,274.75 M384.6,236.85 L386.9,236.85 M384.6,198.95 L386.9,198.95" stroke="#4a4a4a" stroke-width="1.05"/>
<text x="380.4" y="297.5" font-size="10.7" fill="#222" text-anchor="end" >0.0</text>
<text x="380.4" y="259.6" font-size="10.7" fill="#222" text-anchor="end" >2.0</text>
<text x="380.4" y="221.7" font-size="10.7" fill="#222" text-anchor="end" >4.0</text>
<path d="M382.9,313.48 L386.9,313.48 M382.9,324.34 L386.9,324.34 M382.9,335.2 L386.9,335.2 M382.9,346.06 L386.9,346.06 M384.6,308.05 L386.9,308.05 M384.6,318.91 L386.9,318.91 M384.6,329.77 L386.9,329.77 M384.6,340.63 L386.9,340.63" stroke="#4a4a4a" stroke-width="1.05"/>
<text x="380.4" y="317.28" font-size="10.7" fill="#222" text-anchor="end" >0.4</text>
<text x="380.4" y="328.14" font-size="10.7" fill="#222" text-anchor="end" >0.2</text>
<text x="380.4" y="339" font-size="10.7" fill="#222" text-anchor="end" >0.0</text>
<text x="380.4" y="349.86" font-size="10.7" fill="#222" text-anchor="end" >-0.2</text>
<text x="387.3" y="363.9" font-size="11" fill="#222" text-anchor="middle" textLength="23.8" lengthAdjust="spacingAndGlyphs" >1280</text>
<text x="428.31" y="363.9" font-size="11" fill="#222" text-anchor="middle" textLength="23.8" lengthAdjust="spacingAndGlyphs" >1290</text>
<text x="469.33" y="363.9" font-size="11" fill="#222" text-anchor="middle" textLength="23.8" lengthAdjust="spacingAndGlyphs" >1300</text>
<text x="510.34" y="363.9" font-size="11" fill="#222" text-anchor="middle" textLength="23.8" lengthAdjust="spacingAndGlyphs" >1310</text>
<text x="551.36" y="363.9" font-size="11" fill="#222" text-anchor="middle" textLength="23.8" lengthAdjust="spacingAndGlyphs" >1320</text>
<text x="592.37" y="363.9" font-size="11" fill="#222" text-anchor="middle" textLength="23.8" lengthAdjust="spacingAndGlyphs" >1330</text>
<text x="633.38" y="363.9" font-size="11" fill="#222" text-anchor="middle" textLength="23.8" lengthAdjust="spacingAndGlyphs" >1340</text>
<text x="674.4" y="363.9" font-size="11" fill="#222" text-anchor="middle" textLength="23.8" lengthAdjust="spacingAndGlyphs" >1350</text>
<text x="474" y="382.1" font-size="12.5" fill="#111" text-anchor="start" textLength="112.4" lengthAdjust="spacingAndGlyphs" >Photon energy (eV)</text>
<text transform="translate(353.3,102.4) rotate(-90)" font-size="12.8" text-anchor="middle" textLength="135.5" lengthAdjust="spacingAndGlyphs" fill="#111">XAS &amp; XMCD (arb.unit)</text>
<text transform="translate(352.6,272.7) rotate(-90)" font-size="12.8" text-anchor="middle" textLength="133" lengthAdjust="spacingAndGlyphs" fill="#111">XAS &amp; XMLD (arb.unit)</text>
<text x="347.8" y="12.6" font-size="16.2" fill="#000" text-anchor="start" textLength="20.5" lengthAdjust="spacingAndGlyphs" >(b)</text>
<text x="359.4" y="201.1" font-size="16.2" fill="#000" text-anchor="start" textLength="18.7" lengthAdjust="spacingAndGlyphs" >(c)</text>
<text x="390" y="38.1" font-size="11.9" fill="#000" text-anchor="start" textLength="25.4" lengthAdjust="spacingAndGlyphs" >XAS</text>
<text x="390.4" y="153.4" font-size="12.4" fill="#000" text-anchor="start" textLength="37.6" lengthAdjust="spacingAndGlyphs" >XMCD</text>
<text x="390.3" y="209.4" font-size="11.9" fill="#000" text-anchor="start" textLength="25.4" lengthAdjust="spacingAndGlyphs" >XAS</text>
<text x="390.3" y="317.8" font-size="11.9" fill="#000" text-anchor="start" textLength="35.3" lengthAdjust="spacingAndGlyphs" >XMLD</text>
<path d="M445.4,20.1 L445.4,349" stroke="#7a7a7a" stroke-width="0.95" stroke-dasharray="3.9 2.87"/>
<path d="M454.5,20.1 L454.5,349" stroke="#7a7a7a" stroke-width="0.95" stroke-dasharray="3.9 2.87"/>
<path d="M462.4,20.1 L462.4,349" stroke="#7a7a7a" stroke-width="0.95" stroke-dasharray="3.9 2.87"/>
<path d="M387.6,117.9 L388.1,117.88 L388.6,117.86 L389.1,117.83 L389.6,117.81 L390.1,117.79 L390.6,117.77 L391.1,117.75 L391.6,117.73 L392.1,117.71 L392.6,117.69 L393.1,117.67 L393.6,117.65 L394.1,117.63 L394.6,117.61 L395.1,117.59 L395.6,117.57 L396.1,117.55 L396.6,117.53 L397.1,117.51 L397.6,117.49 L398.1,117.47 L398.6,117.45 L399.1,117.43 L399.6,117.41 L400.1,117.4 L400.6,117.38 L401.1,117.36 L401.6,117.34 L402.1,117.33 L402.6,117.31 L403.1,117.3 L403.6,117.28 L404.1,117.26 L404.6,117.25 L405.1,117.23 L405.6,117.22 L406.1,117.2 L406.6,117.18 L407.1,117.17 L407.6,117.15 L408.1,117.13 L408.6,117.12 L409.1,117.1 L409.6,117.08 L410.1,117.06 L410.6,117.04 L411.1,117.02 L411.6,117 L412.1,116.98 L412.6,116.97 L413.1,116.95 L413.6,116.93 L414.1,116.9 L414.6,116.88 L415.1,116.86 L415.6,116.84 L416.1,116.81 L416.6,116.78 L417.1,116.76 L417.6,116.73 L418.1,116.69 L418.6,116.66 L419.1,116.62 L419.6,116.57 L420.1,116.53 L420.6,116.48 L421.1,116.42 L421.6,116.37 L422.1,116.31 L422.6,116.24 L423.1,116.18 L423.6,116.11 L424.1,116.05 L424.6,115.98 L425.1,115.91 L425.6,115.84 L426.1,115.77 L426.6,115.7 L427.1,115.63 L427.6,115.56 L428.1,115.49 L428.6,115.43 L429.1,115.37 L429.6,115.3 L430.1,115.24 L430.6,115.17 L431.1,115.1 L431.6,115.02 L432.1,114.94 L432.6,114.85 L433.1,114.75 L433.6,114.63 L434.1,114.51 L434.6,114.37 L435.1,114.19 L435.6,113.95 L436.1,113.66 L436.6,113.33 L437.1,112.96 L437.6,112.54 L438.1,112.09 L438.6,111.57 L439.1,110.89 L439.6,110.1 L440.1,109.22 L440.6,108.31 L441.1,107.25 L441.6,106.07 L442.1,104.88 L442.6,103.79 L443.1,102.69 L443.6,101.68 L444.1,100.99 L444.6,100.49 L445.1,100.07 L445.6,99.71 L446.1,99.43 L446.6,99.2 L447.1,99.04 L447.6,98.94 L448.1,98.85 L448.6,98.73 L449.1,98.55 L449.6,98.02 L450.1,96.86 L450.6,95.39 L451.1,94 L451.6,92.69 L452.1,91.3 L452.6,89.96 L453.1,88.8 L453.6,87.67 L454.1,86.55 L454.6,85.74 L455.1,85.51 L455.6,85.65 L456.1,85.9 L456.6,86.13 L457.1,86.2 L457.6,86.2 L458.1,86.2 L458.6,86.2 L459.1,86.08 L459.6,84.99 L460.1,83.29 L460.6,81.66 L461.1,80.67 L461.6,79.87 L462.1,79.25 L462.6,79 L463.1,79.28 L463.6,80.01 L464.1,81 L464.6,82.98 L465.1,85.89 L465.6,88.47 L466.1,90.93 L466.6,93.33 L467.1,95.49 L467.6,97.26 L468.1,98.78 L468.6,100.12 L469.1,101.34 L469.6,102.49 L470.1,103.58 L470.6,104.4 L471.1,105.02 L471.6,105.53 L472.1,105.79 L472.6,105.79 L473.1,105.74 L473.6,105.67 L474.1,105.6 L474.6,105.54 L475.1,105.5 L475.6,105.52 L476.1,105.65 L476.6,105.84 L477.1,106.04 L477.6,106.25 L478.1,106.5 L478.6,106.79 L479.1,107.13 L479.6,107.53 L480.1,108.01 L480.6,108.87 L481.1,109.95 L481.6,110.87 L482.1,111.45 L482.6,111.96 L483.1,112.41 L483.6,112.81 L484.1,113.18 L484.6,113.53 L485.1,113.86 L485.6,114.2 L486.1,114.55 L486.6,114.9 L487.1,115.25 L487.6,115.59 L488.1,115.91 L488.6,116.21 L489.1,116.47 L489.6,116.69 L490.1,116.85 L490.6,116.97 L491.1,117.07 L491.6,117.17 L492.1,117.27 L492.6,117.36 L493.1,117.45 L493.6,117.54 L494.1,117.62 L494.6,117.69 L495.1,117.76 L495.6,117.82 L496.1,117.88 L496.6,117.93 L497.1,117.98 L497.6,118.01 L498.1,118.05 L498.6,118.07 L499.1,118.09 L499.6,118.1 L500.1,118.1 L500.6,118.1 L501.1,118.1 L501.6,118.1 L502.1,118.1 L502.6,118.1 L503.1,118.1 L503.6,118.1 L504.1,118.1 L504.6,118.1 L505.1,118.1 L505.6,118.1 L506.1,118.1 L506.6,118.1 L507.1,118.1 L507.6,118.1 L508.1,118.1 L508.6,118.1 L509.1,118.1 L509.6,118.1 L510.1,118.1 L510.6,118.1 L511.1,118.1 L511.6,118.1 L512.1,118.1 L512.6,118.1 L513.1,118.1 L513.6,118.1 L514.1,118.1 L514.6,118.1 L515.1,118.1 L515.6,118.1 L516.1,118.1 L516.6,118.1 L517.1,118.1 L517.6,118.1 L518.1,118.1 L518.6,118.1 L519.1,118.1 L519.6,118.1 L520.1,118.1 L520.6,118.1 L521.1,118.1 L521.6,118.1 L522.1,118.1 L522.6,118.1 L523.1,118.1 L523.6,118.1 L524.1,118.1 L524.6,118.1 L525.1,118.1 L525.6,118.1 L526.1,118.1 L526.6,118.1 L527.1,118.1 L527.6,118.1 L528.1,118.1 L528.6,118.09 L529.1,118.09 L529.6,118.09 L530.1,118.09 L530.6,118.09 L531.1,118.09 L531.6,118.09 L532.1,118.09 L532.6,118.09 L533.1,118.09 L533.6,118.09 L534.1,118.08 L534.6,118.08 L535.1,118.08 L535.6,118.08 L536.1,118.08 L536.6,118.08 L537.1,118.08 L537.6,118.07 L538.1,118.07 L538.6,118.07 L539.1,118.07 L539.6,118.07 L540.1,118.06 L540.6,118.06 L541.1,118.06 L541.6,118.06 L542.1,118.06 L542.6,118.05 L543.1,118.05 L543.6,118.05 L544.1,118.05 L544.6,118.04 L545.1,118.04 L545.6,118.04 L546.1,118.03 L546.6,118.03 L547.1,118.03 L547.6,118.03 L548.1,118.02 L548.6,118.02 L549.1,118.02 L549.6,118.01 L550.1,118.01 L550.6,118.01 L551.1,118 L551.6,118 L552.1,117.99 L552.6,117.99 L553.1,117.99 L553.6,117.98 L554.1,117.98 L554.6,117.97 L555.1,117.97 L555.6,117.96 L556.1,117.96 L556.6,117.95 L557.1,117.95 L557.6,117.95 L558.1,117.94 L558.6,117.94 L559.1,117.93 L559.6,117.92 L560.1,117.92 L560.6,117.91 L561.1,117.91 L561.6,117.9 L562.1,117.9 L562.6,117.89 L563.1,117.88 L563.6,117.88 L564.1,117.87 L564.6,117.87 L565.1,117.86 L565.6,117.85 L566.1,117.85 L566.6,117.84 L567.1,117.83 L567.6,117.83 L568.1,117.82 L568.6,117.81 L569.1,117.8 L569.6,117.8 L570.1,117.79 L570.6,117.78 L571.1,117.77 L571.6,117.76 L572.1,117.76 L572.6,117.75 L573.1,117.74 L573.6,117.73 L574.1,117.72 L574.6,117.71 L575.1,117.7 L575.6,117.7 L576.1,117.69 L576.6,117.68 L577.1,117.67 L577.6,117.66 L578.1,117.65 L578.6,117.64 L579.1,117.63 L579.6,117.62 L580.1,117.61 L580.6,117.6 L581.1,117.59 L581.6,117.58 L582.1,117.57 L582.6,117.55 L583.1,117.54 L583.6,117.53 L584.1,117.52 L584.6,117.51 L585.1,117.5 L585.6,117.47 L586.1,117.44 L586.6,117.38 L587.1,117.32 L587.6,117.23 L588.1,117.14 L588.6,117.03 L589.1,116.91 L589.6,116.78 L590.1,116.64 L590.6,116.48 L591.1,116.32 L591.6,116.15 L592.1,115.96 L592.6,115.69 L593.1,115.32 L593.6,114.86 L594.1,114.33 L594.6,113.75 L595.1,113.14 L595.6,112.51 L596.1,111.89 L596.6,111.28 L597.1,110.6 L597.6,109.85 L598.1,109.06 L598.6,108.27 L599.1,107.52 L599.6,106.85 L600.1,106.3 L600.6,105.8 L601.1,105.3 L601.6,104.84 L602.1,104.46 L602.6,104.2 L603.1,104.1 L603.6,104.22 L604.1,104.56 L604.6,105.06 L605.1,105.67 L605.6,106.33 L606.1,106.99 L606.6,107.59 L607.1,108.15 L607.6,108.77 L608.1,109.42 L608.6,110.08 L609.1,110.74 L609.6,111.36 L610.1,111.93 L610.6,112.41 L611.1,112.8 L611.6,113.12 L612.1,113.43 L612.6,113.72 L613.1,114 L613.6,114.26 L614.1,114.51 L614.6,114.74 L615.1,114.95 L615.6,115.14 L616.1,115.32 L616.6,115.47 L617.1,115.61 L617.6,115.72 L618.1,115.82 L618.6,115.9 L619.1,115.98 L619.6,116.06 L620.1,116.13 L620.6,116.2 L621.1,116.26 L621.6,116.33 L622.1,116.39 L622.6,116.44 L623.1,116.5 L623.6,116.55 L624.1,116.6 L624.6,116.64 L625.1,116.68 L625.6,116.73 L626.1,116.76 L626.6,116.8 L627.1,116.83 L627.6,116.87 L628.1,116.9 L628.6,116.93 L629.1,116.95 L629.6,116.98 L630.1,117 L630.6,117.03 L631.1,117.05 L631.6,117.08 L632.1,117.1 L632.6,117.12 L633.1,117.15 L633.6,117.17 L634.1,117.19 L634.6,117.21 L635.1,117.24 L635.6,117.26 L636.1,117.28 L636.6,117.3 L637.1,117.32 L637.6,117.35 L638.1,117.37 L638.6,117.39 L639.1,117.41 L639.6,117.43 L640.1,117.45 L640.6,117.47 L641.1,117.49 L641.6,117.51 L642.1,117.53 L642.6,117.55 L643.1,117.57 L643.6,117.59 L644.1,117.6 L644.6,117.62 L645.1,117.64 L645.6,117.66 L646.1,117.68 L646.6,117.69 L647.1,117.71 L647.6,117.73 L648.1,117.74 L648.6,117.76 L649.1,117.78 L649.6,117.79 L650.1,117.81 L650.6,117.82 L651.1,117.84 L651.6,117.85 L652.1,117.87 L652.6,117.88 L653.1,117.9 L653.6,117.91 L654.1,117.92 L654.6,117.94 L655.1,117.95 L655.6,117.96 L656.1,117.97 L656.6,117.99 L657.1,118 L657.6,118.01 L658.1,118.02 L658.6,118.03 L659.1,118.04 L659.6,118.05 L660.1,118.06 L660.6,118.07 L661.1,118.08 L661.6,118.09 L662.1,118.1 L662.6,118.11 L663.1,118.11 L663.6,118.12 L664.1,118.13 L664.6,118.14 L665.1,118.14 L665.6,118.15 L666.1,118.15 L666.6,118.16 L667.1,118.16 L667.6,118.17 L668.1,118.17 L668.6,118.18 L669.1,118.18 L669.6,118.19 L670.1,118.19 L670.6,118.19 L671.1,118.19 L671.6,118.2 L672.1,118.2 L672.6,118.2 L673.1,118.2 L673.6,118.2" stroke="#1f1fff" stroke-width="1.5" fill="none"/>
<path d="M387.6,117.6 L388.1,117.58 L388.6,117.56 L389.1,117.53 L389.6,117.51 L390.1,117.49 L390.6,117.47 L391.1,117.45 L391.6,117.43 L392.1,117.41 L392.6,117.39 L393.1,117.37 L393.6,117.35 L394.1,117.33 L394.6,117.31 L395.1,117.29 L395.6,117.27 L396.1,117.25 L396.6,117.23 L397.1,117.21 L397.6,117.19 L398.1,117.17 L398.6,117.15 L399.1,117.13 L399.6,117.11 L400.1,117.1 L400.6,117.08 L401.1,117.06 L401.6,117.04 L402.1,117.03 L402.6,117.01 L403.1,117 L403.6,116.98 L404.1,116.96 L404.6,116.95 L405.1,116.93 L405.6,116.92 L406.1,116.9 L406.6,116.88 L407.1,116.87 L407.6,116.85 L408.1,116.83 L408.6,116.82 L409.1,116.8 L409.6,116.78 L410.1,116.76 L410.6,116.74 L411.1,116.72 L411.6,116.7 L412.1,116.68 L412.6,116.67 L413.1,116.65 L413.6,116.63 L414.1,116.6 L414.6,116.58 L415.1,116.56 L415.6,116.54 L416.1,116.51 L416.6,116.48 L417.1,116.46 L417.6,116.43 L418.1,116.39 L418.6,116.36 L419.1,116.32 L419.6,116.27 L420.1,116.23 L420.6,116.18 L421.1,116.12 L421.6,116.07 L422.1,116.01 L422.6,115.94 L423.1,115.88 L423.6,115.81 L424.1,115.75 L424.6,115.68 L425.1,115.61 L425.6,115.54 L426.1,115.47 L426.6,115.4 L427.1,115.33 L427.6,115.26 L428.1,115.19 L428.6,115.13 L429.1,115.07 L429.6,115 L430.1,114.94 L430.6,114.87 L431.1,114.8 L431.6,114.72 L432.1,114.64 L432.6,114.54 L433.1,114.44 L433.6,114.33 L434.1,114.21 L434.6,114.07 L435.1,113.89 L435.6,113.66 L436.1,113.38 L436.6,113.05 L437.1,112.69 L437.6,112.3 L438.1,111.89 L438.6,111.42 L439.1,110.85 L439.6,110.19 L440.1,109.47 L440.6,108.69 L441.1,107.85 L441.6,106.81 L442.1,105.69 L442.6,104.68 L443.1,103.85 L443.6,103.13 L444.1,102.48 L444.6,101.92 L445.1,101.42 L445.6,100.93 L446.1,100.41 L446.6,99.8 L447.1,99.12 L447.6,98.4 L448.1,97.59 L448.6,96.65 L449.1,95.54 L449.6,94.14 L450.1,92.27 L450.6,90.02 L451.1,87.5 L451.6,84.1 L452.1,80.25 L452.6,77.42 L453.1,75.3 L453.6,73.52 L454.1,72.01 L454.6,70.71 L455.1,69.5 L455.6,68.26 L456.1,67 L456.6,65.8 L457.1,64.48 L457.6,62.8 L458.1,60.31 L458.6,57.07 L459.1,53.56 L459.6,49.58 L460.1,45.34 L460.6,40.74 L461.1,36.03 L461.6,32.97 L462.1,30.73 L462.6,30.03 L463.1,30.83 L463.6,32.4 L464.1,36.26 L464.6,41.86 L465.1,50.35 L465.6,57.36 L466.1,62.37 L466.6,67.02 L467.1,72.36 L467.6,77.81 L468.1,81.57 L468.6,84.05 L469.1,86.04 L469.6,87.67 L470.1,89.06 L470.6,90.27 L471.1,91.32 L471.6,92.22 L472.1,93.01 L472.6,93.73 L473.1,94.39 L473.6,94.94 L474.1,95.38 L474.6,95.67 L475.1,95.92 L475.6,96.29 L476.1,96.9 L476.6,97.69 L477.1,98.57 L477.6,99.46 L478.1,100.43 L478.6,101.48 L479.1,102.55 L479.6,103.56 L480.1,104.47 L480.6,105.31 L481.1,106.11 L481.6,106.88 L482.1,107.62 L482.6,108.35 L483.1,109.05 L483.6,109.75 L484.1,110.44 L484.6,111.16 L485.1,111.87 L485.6,112.54 L486.1,113.12 L486.6,113.56 L487.1,113.94 L487.6,114.29 L488.1,114.6 L488.6,114.88 L489.1,115.14 L489.6,115.39 L490.1,115.61 L490.6,115.83 L491.1,116.05 L491.6,116.26 L492.1,116.47 L492.6,116.66 L493.1,116.84 L493.6,117 L494.1,117.13 L494.6,117.24 L495.1,117.31 L495.6,117.37 L496.1,117.43 L496.6,117.48 L497.1,117.53 L497.6,117.57 L498.1,117.61 L498.6,117.64 L499.1,117.67 L499.6,117.69 L500.1,117.7 L500.6,117.72 L501.1,117.73 L501.6,117.74 L502.1,117.76 L502.6,117.77 L503.1,117.78 L503.6,117.79 L504.1,117.8 L504.6,117.81 L505.1,117.82 L505.6,117.83 L506.1,117.84 L506.6,117.85 L507.1,117.86 L507.6,117.87 L508.1,117.88 L508.6,117.88 L509.1,117.89 L509.6,117.9 L510.1,117.9 L510.6,117.91 L511.1,117.92 L511.6,117.92 L512.1,117.93 L512.6,117.93 L513.1,117.94 L513.6,117.94 L514.1,117.95 L514.6,117.95 L515.1,117.96 L515.6,117.96 L516.1,117.97 L516.6,117.97 L517.1,117.98 L517.6,117.98 L518.1,117.98 L518.6,117.99 L519.1,117.99 L519.6,118 L520.1,118 L520.6,118 L521.1,118.01 L521.6,118.01 L522.1,118.02 L522.6,118.02 L523.1,118.02 L523.6,118.03 L524.1,118.03 L524.6,118.04 L525.1,118.04 L525.6,118.04 L526.1,118.05 L526.6,118.05 L527.1,118.05 L527.6,118.06 L528.1,118.06 L528.6,118.07 L529.1,118.07 L529.6,118.07 L530.1,118.08 L530.6,118.08 L531.1,118.08 L531.6,118.09 L532.1,118.09 L532.6,118.09 L533.1,118.1 L533.6,118.1 L534.1,118.1 L534.6,118.11 L535.1,118.11 L535.6,118.11 L536.1,118.12 L536.6,118.12 L537.1,118.12 L537.6,118.13 L538.1,118.13 L538.6,118.13 L539.1,118.13 L539.6,118.14 L540.1,118.14 L540.6,118.14 L541.1,118.15 L541.6,118.15 L542.1,118.15 L542.6,118.15 L543.1,118.16 L543.6,118.16 L544.1,118.16 L544.6,118.16 L545.1,118.17 L545.6,118.17 L546.1,118.17 L546.6,118.17 L547.1,118.17 L547.6,118.18 L548.1,118.18 L548.6,118.18 L549.1,118.18 L549.6,118.18 L550.1,118.18 L550.6,118.19 L551.1,118.19 L551.6,118.19 L552.1,118.19 L552.6,118.19 L553.1,118.19 L553.6,118.19 L554.1,118.19 L554.6,118.2 L555.1,118.2 L555.6,118.2 L556.1,118.2 L556.6,118.2 L557.1,118.2 L557.6,118.2 L558.1,118.2 L558.6,118.2 L559.1,118.2 L559.6,118.2 L560.1,118.2 L560.6,118.2 L561.1,118.2 L561.6,118.19 L562.1,118.19 L562.6,118.18 L563.1,118.18 L563.6,118.17 L564.1,118.16 L564.6,118.15 L565.1,118.14 L565.6,118.13 L566.1,118.11 L566.6,118.1 L567.1,118.08 L567.6,118.07 L568.1,118.05 L568.6,118.03 L569.1,118.01 L569.6,117.99 L570.1,117.97 L570.6,117.94 L571.1,117.92 L571.6,117.9 L572.1,117.87 L572.6,117.84 L573.1,117.82 L573.6,117.79 L574.1,117.76 L574.6,117.73 L575.1,117.7 L575.6,117.67 L576.1,117.64 L576.6,117.6 L577.1,117.57 L577.6,117.53 L578.1,117.5 L578.6,117.46 L579.1,117.43 L579.6,117.39 L580.1,117.35 L580.6,117.31 L581.1,117.27 L581.6,117.23 L582.1,117.19 L582.6,117.15 L583.1,117.1 L583.6,117.05 L584.1,116.99 L584.6,116.93 L585.1,116.87 L585.6,116.79 L586.1,116.71 L586.6,116.62 L587.1,116.53 L587.6,116.42 L588.1,116.31 L588.6,116.18 L589.1,116.05 L589.6,115.91 L590.1,115.75 L590.6,115.58 L591.1,115.4 L591.6,115.21 L592.1,115 L592.6,114.66 L593.1,114.08 L593.6,113.33 L594.1,112.44 L594.6,111.46 L595.1,110.43 L595.6,109.4 L596.1,108.42 L596.6,107.53 L597.1,106.56 L597.6,105.53 L598.1,104.51 L598.6,103.59 L599.1,102.89 L599.6,102.45 L600.1,102.09 L600.6,101.77 L601.1,101.5 L601.6,101.31 L602.1,101.21 L602.6,101.23 L603.1,101.43 L603.6,101.76 L604.1,102.19 L604.6,102.68 L605.1,103.2 L605.6,103.74 L606.1,104.47 L606.6,105.36 L607.1,106.34 L607.6,107.36 L608.1,108.37 L608.6,109.29 L609.1,110.09 L609.6,110.7 L610.1,111.18 L610.6,111.64 L611.1,112.08 L611.6,112.48 L612.1,112.87 L612.6,113.22 L613.1,113.55 L613.6,113.84 L614.1,114.11 L614.6,114.35 L615.1,114.56 L615.6,114.73 L616.1,114.9 L616.6,115.05 L617.1,115.2 L617.6,115.35 L618.1,115.49 L618.6,115.62 L619.1,115.75 L619.6,115.87 L620.1,115.99 L620.6,116.1 L621.1,116.2 L621.6,116.29 L622.1,116.38 L622.6,116.46 L623.1,116.54 L623.6,116.6 L624.1,116.66 L624.6,116.71 L625.1,116.76 L625.6,116.79 L626.1,116.82 L626.6,116.85 L627.1,116.88 L627.6,116.91 L628.1,116.94 L628.6,116.97 L629.1,117 L629.6,117.03 L630.1,117.05 L630.6,117.08 L631.1,117.11 L631.6,117.13 L632.1,117.16 L632.6,117.19 L633.1,117.21 L633.6,117.24 L634.1,117.26 L634.6,117.28 L635.1,117.31 L635.6,117.33 L636.1,117.36 L636.6,117.38 L637.1,117.4 L637.6,117.42 L638.1,117.45 L638.6,117.47 L639.1,117.49 L639.6,117.51 L640.1,117.53 L640.6,117.55 L641.1,117.57 L641.6,117.59 L642.1,117.61 L642.6,117.63 L643.1,117.65 L643.6,117.67 L644.1,117.68 L644.6,117.7 L645.1,117.72 L645.6,117.74 L646.1,117.75 L646.6,117.77 L647.1,117.78 L647.6,117.8 L648.1,117.82 L648.6,117.83 L649.1,117.85 L649.6,117.86 L650.1,117.87 L650.6,117.89 L651.1,117.9 L651.6,117.91 L652.1,117.93 L652.6,117.94 L653.1,117.95 L653.6,117.96 L654.1,117.98 L654.6,117.99 L655.1,118 L655.6,118.01 L656.1,118.02 L656.6,118.03 L657.1,118.04 L657.6,118.05 L658.1,118.06 L658.6,118.07 L659.1,118.08 L659.6,118.08 L660.1,118.09 L660.6,118.1 L661.1,118.11 L661.6,118.11 L662.1,118.12 L662.6,118.13 L663.1,118.13 L663.6,118.14 L664.1,118.15 L664.6,118.15 L665.1,118.16 L665.6,118.16 L666.1,118.17 L666.6,118.17 L667.1,118.17 L667.6,118.18 L668.1,118.18 L668.6,118.18 L669.1,118.19 L669.6,118.19 L670.1,118.19 L670.6,118.19 L671.1,118.2 L671.6,118.2 L672.1,118.2 L672.6,118.2 L673.1,118.2 L673.6,118.2" stroke="#f03c3c" stroke-width="1.2" fill="none"/>
<path d="M387.6,136.6 L388.1,136.6 L388.6,136.6 L389.1,136.6 L389.6,136.6 L390.1,136.6 L390.6,136.6 L391.1,136.6 L391.6,136.6 L392.1,136.6 L392.6,136.61 L393.1,136.61 L393.6,136.61 L394.1,136.61 L394.6,136.61 L395.1,136.61 L395.6,136.61 L396.1,136.61 L396.6,136.62 L397.1,136.62 L397.6,136.62 L398.1,136.62 L398.6,136.62 L399.1,136.63 L399.6,136.63 L400.1,136.63 L400.6,136.63 L401.1,136.64 L401.6,136.64 L402.1,136.64 L402.6,136.65 L403.1,136.65 L403.6,136.65 L404.1,136.65 L404.6,136.66 L405.1,136.66 L405.6,136.66 L406.1,136.67 L406.6,136.67 L407.1,136.68 L407.6,136.68 L408.1,136.68 L408.6,136.69 L409.1,136.69 L409.6,136.7 L410.1,136.7 L410.6,136.7 L411.1,136.71 L411.6,136.71 L412.1,136.72 L412.6,136.72 L413.1,136.73 L413.6,136.73 L414.1,136.74 L414.6,136.74 L415.1,136.75 L415.6,136.75 L416.1,136.76 L416.6,136.76 L417.1,136.77 L417.6,136.77 L418.1,136.78 L418.6,136.78 L419.1,136.79 L419.6,136.8 L420.1,136.8 L420.6,136.81 L421.1,136.82 L421.6,136.83 L422.1,136.85 L422.6,136.87 L423.1,136.89 L423.6,136.91 L424.1,136.94 L424.6,136.96 L425.1,136.99 L425.6,137.01 L426.1,137.04 L426.6,137.07 L427.1,137.1 L427.6,137.13 L428.1,137.16 L428.6,137.18 L429.1,137.21 L429.6,137.24 L430.1,137.26 L430.6,137.29 L431.1,137.31 L431.6,137.33 L432.1,137.35 L432.6,137.36 L433.1,137.38 L433.6,137.39 L434.1,137.39 L434.6,137.4 L435.1,137.4 L435.6,137.4 L436.1,137.39 L436.6,137.37 L437.1,137.35 L437.6,137.32 L438.1,137.29 L438.6,137.25 L439.1,137.21 L439.6,137.16 L440.1,137.11 L440.6,137.03 L441.1,136.86 L441.6,136.65 L442.1,136.41 L442.6,136.17 L443.1,135.96 L443.6,135.73 L444.1,135.48 L444.6,135.27 L445.1,135.13 L445.6,135.12 L446.1,135.3 L446.6,135.65 L447.1,136.12 L447.6,136.65 L448.1,137.22 L448.6,138 L449.1,139.01 L449.6,140.14 L450.1,141.28 L450.6,142.3 L451.1,143.22 L451.6,144.11 L452.1,144.97 L452.6,145.82 L453.1,146.64 L453.6,147.41 L454.1,148.1 L454.6,148.78 L455.1,149.5 L455.6,150.33 L456.1,151.31 L456.6,152.47 L457.1,153.78 L457.6,155.24 L458.1,156.86 L458.6,158.68 L459.1,161.11 L459.6,163.79 L460.1,166.22 L460.6,168.05 L461.1,169.61 L461.6,170.67 L462.1,171.41 L462.6,171.43 L463.1,171.09 L463.6,170.25 L464.1,168.65 L464.6,166.63 L465.1,163.96 L465.6,161.06 L466.1,158.37 L466.6,156.02 L467.1,153.67 L467.6,151.6 L468.1,150.1 L468.6,149.06 L469.1,148.17 L469.6,147.42 L470.1,146.8 L470.6,146.29 L471.1,145.88 L471.6,145.54 L472.1,145.26 L472.6,145 L473.1,144.74 L473.6,144.46 L474.1,144.13 L474.6,143.75 L475.1,143.34 L475.6,142.92 L476.1,142.49 L476.6,142.07 L477.1,141.67 L477.6,141.3 L478.1,140.91 L478.6,140.53 L479.1,140.16 L479.6,139.83 L480.1,139.56 L480.6,139.37 L481.1,139.21 L481.6,139.06 L482.1,138.94 L482.6,138.82 L483.1,138.72 L483.6,138.62 L484.1,138.54 L484.6,138.46 L485.1,138.39 L485.6,138.31 L486.1,138.25 L486.6,138.18 L487.1,138.11 L487.6,138.05 L488.1,137.99 L488.6,137.93 L489.1,137.87 L489.6,137.82 L490.1,137.77 L490.6,137.72 L491.1,137.67 L491.6,137.63 L492.1,137.59 L492.6,137.55 L493.1,137.51 L493.6,137.48 L494.1,137.45 L494.6,137.42 L495.1,137.4 L495.6,137.37 L496.1,137.35 L496.6,137.33 L497.1,137.3 L497.6,137.28 L498.1,137.26 L498.6,137.24 L499.1,137.22 L499.6,137.2 L500.1,137.17 L500.6,137.15 L501.1,137.13 L501.6,137.11 L502.1,137.09 L502.6,137.07 L503.1,137.06 L503.6,137.04 L504.1,137.02 L504.6,137 L505.1,136.98 L505.6,136.96 L506.1,136.95 L506.6,136.93 L507.1,136.91 L507.6,136.9 L508.1,136.88 L508.6,136.87 L509.1,136.85 L509.6,136.84 L510.1,136.82 L510.6,136.81 L511.1,136.8 L511.6,136.78 L512.1,136.77 L512.6,136.76 L513.1,136.75 L513.6,136.73 L514.1,136.72 L514.6,136.71 L515.1,136.7 L515.6,136.69 L516.1,136.68 L516.6,136.67 L517.1,136.67 L517.6,136.66 L518.1,136.65 L518.6,136.64 L519.1,136.64 L519.6,136.63 L520.1,136.63 L520.6,136.62 L521.1,136.62 L521.6,136.61 L522.1,136.61 L522.6,136.61 L523.1,136.6 L523.6,136.6 L524.1,136.6 L524.6,136.6 L525.1,136.6 L525.6,136.6 L526.1,136.6 L526.6,136.6 L527.1,136.6 L527.6,136.6 L528.1,136.6 L528.6,136.6 L529.1,136.6 L529.6,136.6 L530.1,136.6 L530.6,136.6 L531.1,136.6 L531.6,136.6 L532.1,136.6 L532.6,136.6 L533.1,136.6 L533.6,136.6 L534.1,136.6 L534.6,136.6 L535.1,136.6 L535.6,136.6 L536.1,136.6 L536.6,136.6 L537.1,136.6 L537.6,136.6 L538.1,136.6 L538.6,136.6 L539.1,136.6 L539.6,136.6 L540.1,136.61 L540.6,136.61 L541.1,136.61 L541.6,136.61 L542.1,136.61 L542.6,136.61 L543.1,136.61 L543.6,136.61 L544.1,136.61 L544.6,136.61 L545.1,136.61 L545.6,136.61 L546.1,136.61 L546.6,136.61 L547.1,136.61 L547.6,136.61 L548.1,136.61 L548.6,136.61 L549.1,136.62 L549.6,136.62 L550.1,136.62 L550.6,136.62 L551.1,136.62 L551.6,136.62 L552.1,136.62 L552.6,136.62 L553.1,136.62 L553.6,136.62 L554.1,136.63 L554.6,136.63 L555.1,136.63 L555.6,136.63 L556.1,136.63 L556.6,136.63 L557.1,136.63 L557.6,136.63 L558.1,136.63 L558.6,136.64 L559.1,136.64 L559.6,136.64 L560.1,136.64 L560.6,136.64 L561.1,136.64 L561.6,136.64 L562.1,136.65 L562.6,136.65 L563.1,136.65 L563.6,136.65 L564.1,136.65 L564.6,136.65 L565.1,136.66 L565.6,136.66 L566.1,136.66 L566.6,136.66 L567.1,136.66 L567.6,136.67 L568.1,136.67 L568.6,136.67 L569.1,136.67 L569.6,136.67 L570.1,136.68 L570.6,136.68 L571.1,136.68 L571.6,136.68 L572.1,136.69 L572.6,136.69 L573.1,136.69 L573.6,136.69 L574.1,136.7 L574.6,136.7 L575.1,136.7 L575.6,136.7 L576.1,136.71 L576.6,136.71 L577.1,136.71 L577.6,136.71 L578.1,136.72 L578.6,136.72 L579.1,136.72 L579.6,136.73 L580.1,136.73 L580.6,136.73 L581.1,136.74 L581.6,136.74 L582.1,136.74 L582.6,136.74 L583.1,136.75 L583.6,136.75 L584.1,136.76 L584.6,136.76 L585.1,136.76 L585.6,136.77 L586.1,136.77 L586.6,136.77 L587.1,136.78 L587.6,136.78 L588.1,136.78 L588.6,136.79 L589.1,136.79 L589.6,136.8 L590.1,136.8 L590.6,136.82 L591.1,136.85 L591.6,136.91 L592.1,136.97 L592.6,137.05 L593.1,137.14 L593.6,137.24 L594.1,137.35 L594.6,137.46 L595.1,137.58 L595.6,137.7 L596.1,137.83 L596.6,138 L597.1,138.23 L597.6,138.5 L598.1,138.78 L598.6,139.04 L599.1,139.26 L599.6,139.42 L600.1,139.5 L600.6,139.46 L601.1,139.32 L601.6,139.11 L602.1,138.86 L602.6,138.59 L603.1,138.33 L603.6,138.12 L604.1,137.98 L604.6,137.86 L605.1,137.75 L605.6,137.64 L606.1,137.54 L606.6,137.43 L607.1,137.34 L607.6,137.25 L608.1,137.16 L608.6,137.08 L609.1,137.01 L609.6,136.95 L610.1,136.9 L610.6,136.86 L611.1,136.83 L611.6,136.81 L612.1,136.8 L612.6,136.8 L613.1,136.79 L613.6,136.79 L614.1,136.78 L614.6,136.78 L615.1,136.78 L615.6,136.77 L616.1,136.77 L616.6,136.76 L617.1,136.76 L617.6,136.76 L618.1,136.75 L618.6,136.75 L619.1,136.75 L619.6,136.74 L620.1,136.74 L620.6,136.74 L621.1,136.73 L621.6,136.73 L622.1,136.73 L622.6,136.72 L623.1,136.72 L623.6,136.72 L624.1,136.71 L624.6,136.71 L625.1,136.71 L625.6,136.71 L626.1,136.7 L626.6,136.7 L627.1,136.7 L627.6,136.7 L628.1,136.69 L628.6,136.69 L629.1,136.69 L629.6,136.69 L630.1,136.68 L630.6,136.68 L631.1,136.68 L631.6,136.68 L632.1,136.67 L632.6,136.67 L633.1,136.67 L633.6,136.67 L634.1,136.67 L634.6,136.66 L635.1,136.66 L635.6,136.66 L636.1,136.66 L636.6,136.66 L637.1,136.65 L637.6,136.65 L638.1,136.65 L638.6,136.65 L639.1,136.65 L639.6,136.65 L640.1,136.64 L640.6,136.64 L641.1,136.64 L641.6,136.64 L642.1,136.64 L642.6,136.64 L643.1,136.63 L643.6,136.63 L644.1,136.63 L644.6,136.63 L645.1,136.63 L645.6,136.63 L646.1,136.63 L646.6,136.63 L647.1,136.62 L647.6,136.62 L648.1,136.62 L648.6,136.62 L649.1,136.62 L649.6,136.62 L650.1,136.62 L650.6,136.62 L651.1,136.62 L651.6,136.62 L652.1,136.62 L652.6,136.61 L653.1,136.61 L653.6,136.61 L654.1,136.61 L654.6,136.61 L655.1,136.61 L655.6,136.61 L656.1,136.61 L656.6,136.61 L657.1,136.61 L657.6,136.61 L658.1,136.61 L658.6,136.61 L659.1,136.61 L659.6,136.61 L660.1,136.61 L660.6,136.6 L661.1,136.6 L661.6,136.6 L662.1,136.6 L662.6,136.6 L663.1,136.6 L663.6,136.6 L664.1,136.6 L664.6,136.6 L665.1,136.6 L665.6,136.6 L666.1,136.6 L666.6,136.6 L667.1,136.6 L667.6,136.6 L668.1,136.6 L668.6,136.6 L669.1,136.6 L669.6,136.6 L670.1,136.6 L670.6,136.6 L671.1,136.6 L671.6,136.6 L672.1,136.6 L672.6,136.6 L673.1,136.6 L673.6,136.6" stroke="#000" stroke-width="1.3" fill="none"/>
<path d="M387.6,293.5 L388.1,293.5 L388.6,293.5 L389.1,293.49 L389.6,293.49 L390.1,293.48 L390.6,293.48 L391.1,293.47 L391.6,293.46 L392.1,293.45 L392.6,293.44 L393.1,293.43 L393.6,293.42 L394.1,293.4 L394.6,293.39 L395.1,293.38 L395.6,293.36 L396.1,293.35 L396.6,293.33 L397.1,293.31 L397.6,293.3 L398.1,293.28 L398.6,293.26 L399.1,293.24 L399.6,293.22 L400.1,293.2 L400.6,293.18 L401.1,293.16 L401.6,293.14 L402.1,293.12 L402.6,293.1 L403.1,293.08 L403.6,293.06 L404.1,293.04 L404.6,293.02 L405.1,293 L405.6,292.97 L406.1,292.95 L406.6,292.93 L407.1,292.9 L407.6,292.87 L408.1,292.85 L408.6,292.82 L409.1,292.79 L409.6,292.76 L410.1,292.72 L410.6,292.69 L411.1,292.65 L411.6,292.62 L412.1,292.58 L412.6,292.54 L413.1,292.5 L413.6,292.46 L414.1,292.42 L414.6,292.37 L415.1,292.33 L415.6,292.28 L416.1,292.23 L416.6,292.18 L417.1,292.13 L417.6,292.08 L418.1,292.02 L418.6,291.97 L419.1,291.91 L419.6,291.85 L420.1,291.79 L420.6,291.72 L421.1,291.65 L421.6,291.57 L422.1,291.49 L422.6,291.4 L423.1,291.31 L423.6,291.21 L424.1,291.11 L424.6,291 L425.1,290.88 L425.6,290.76 L426.1,290.64 L426.6,290.51 L427.1,290.37 L427.6,290.23 L428.1,290.09 L428.6,289.94 L429.1,289.79 L429.6,289.63 L430.1,289.47 L430.6,289.29 L431.1,289.09 L431.6,288.87 L432.1,288.64 L432.6,288.39 L433.1,288.13 L433.6,287.85 L434.1,287.56 L434.6,287.26 L435.1,286.95 L435.6,286.63 L436.1,286.3 L436.6,285.93 L437.1,285.54 L437.6,285.11 L438.1,284.63 L438.6,284.1 L439.1,283.47 L439.6,282.71 L440.1,281.83 L440.6,280.84 L441.1,279.73 L441.6,278.35 L442.1,276.77 L442.6,275.11 L443.1,273.5 L443.6,271.88 L444.1,270.16 L444.6,268.82 L445.1,268.19 L445.6,267.83 L446.1,267.56 L446.6,267.29 L447.1,266.9 L447.6,266.38 L448.1,265.71 L448.6,264.81 L449.1,263.41 L449.6,261.2 L450.1,258.43 L450.6,255.35 L451.1,251.39 L451.6,246.82 L452.1,242.14 L452.6,237.09 L453.1,232.7 L453.6,229.09 L454.1,226.1 L454.6,224.3 L455.1,223 L455.6,222.32 L456.1,222.33 L456.6,222.42 L457.1,222.52 L457.6,222.71 L458.1,222.88 L458.6,222.24 L459.1,219.23 L459.6,215.8 L460.1,212.62 L460.6,209.46 L461.1,207.18 L461.6,205.23 L462.1,204.14 L462.6,204.42 L463.1,205.52 L463.6,207.06 L464.1,210.09 L464.6,214.17 L465.1,218.21 L465.6,222.53 L466.1,227.5 L466.6,233.97 L467.1,241.18 L467.6,247.27 L468.1,252.55 L468.6,256.73 L469.1,260.02 L469.6,262.59 L470.1,264.52 L470.6,265.86 L471.1,266.36 L471.6,266.64 L472.1,266.9 L472.6,267.16 L473.1,267.39 L473.6,267.61 L474.1,267.84 L474.6,268.1 L475.1,268.43 L475.6,268.86 L476.1,269.45 L476.6,270.16 L477.1,270.94 L477.6,271.77 L478.1,272.76 L478.6,273.9 L479.1,275.09 L479.6,276.22 L480.1,277.18 L480.6,278.05 L481.1,278.89 L481.6,279.69 L482.1,280.47 L482.6,281.21 L483.1,281.92 L483.6,282.6 L484.1,283.24 L484.6,283.84 L485.1,284.41 L485.6,284.97 L486.1,285.53 L486.6,286.08 L487.1,286.61 L487.6,287.13 L488.1,287.61 L488.6,288.06 L489.1,288.46 L489.6,288.82 L490.1,289.12 L490.6,289.36 L491.1,289.55 L491.6,289.73 L492.1,289.89 L492.6,290.05 L493.1,290.19 L493.6,290.33 L494.1,290.45 L494.6,290.57 L495.1,290.68 L495.6,290.79 L496.1,290.88 L496.6,290.98 L497.1,291.06 L497.6,291.15 L498.1,291.22 L498.6,291.3 L499.1,291.37 L499.6,291.44 L500.1,291.51 L500.6,291.58 L501.1,291.65 L501.6,291.71 L502.1,291.77 L502.6,291.82 L503.1,291.87 L503.6,291.91 L504.1,291.95 L504.6,291.98 L505.1,292 L505.6,292.02 L506.1,292.04 L506.6,292.06 L507.1,292.08 L507.6,292.1 L508.1,292.12 L508.6,292.14 L509.1,292.16 L509.6,292.18 L510.1,292.19 L510.6,292.21 L511.1,292.23 L511.6,292.25 L512.1,292.27 L512.6,292.28 L513.1,292.3 L513.6,292.32 L514.1,292.33 L514.6,292.35 L515.1,292.37 L515.6,292.39 L516.1,292.4 L516.6,292.42 L517.1,292.44 L517.6,292.45 L518.1,292.47 L518.6,292.48 L519.1,292.5 L519.6,292.52 L520.1,292.53 L520.6,292.55 L521.1,292.56 L521.6,292.58 L522.1,292.59 L522.6,292.61 L523.1,292.62 L523.6,292.64 L524.1,292.65 L524.6,292.66 L525.1,292.68 L525.6,292.69 L526.1,292.71 L526.6,292.72 L527.1,292.73 L527.6,292.75 L528.1,292.76 L528.6,292.77 L529.1,292.79 L529.6,292.8 L530.1,292.81 L530.6,292.83 L531.1,292.84 L531.6,292.85 L532.1,292.86 L532.6,292.88 L533.1,292.89 L533.6,292.9 L534.1,292.91 L534.6,292.92 L535.1,292.94 L535.6,292.95 L536.1,292.96 L536.6,292.97 L537.1,292.98 L537.6,292.99 L538.1,293 L538.6,293.01 L539.1,293.02 L539.6,293.03 L540.1,293.04 L540.6,293.05 L541.1,293.06 L541.6,293.07 L542.1,293.08 L542.6,293.09 L543.1,293.1 L543.6,293.11 L544.1,293.12 L544.6,293.13 L545.1,293.14 L545.6,293.15 L546.1,293.16 L546.6,293.17 L547.1,293.18 L547.6,293.18 L548.1,293.19 L548.6,293.2 L549.1,293.21 L549.6,293.22 L550.1,293.23 L550.6,293.23 L551.1,293.24 L551.6,293.25 L552.1,293.26 L552.6,293.26 L553.1,293.27 L553.6,293.28 L554.1,293.28 L554.6,293.29 L555.1,293.3 L555.6,293.3 L556.1,293.31 L556.6,293.32 L557.1,293.32 L557.6,293.33 L558.1,293.34 L558.6,293.34 L559.1,293.35 L559.6,293.35 L560.1,293.36 L560.6,293.36 L561.1,293.37 L561.6,293.37 L562.1,293.38 L562.6,293.38 L563.1,293.39 L563.6,293.39 L564.1,293.4 L564.6,293.4 L565.1,293.41 L565.6,293.41 L566.1,293.42 L566.6,293.42 L567.1,293.43 L567.6,293.43 L568.1,293.43 L568.6,293.44 L569.1,293.44 L569.6,293.44 L570.1,293.45 L570.6,293.45 L571.1,293.45 L571.6,293.46 L572.1,293.46 L572.6,293.46 L573.1,293.46 L573.6,293.47 L574.1,293.47 L574.6,293.47 L575.1,293.47 L575.6,293.48 L576.1,293.48 L576.6,293.48 L577.1,293.48 L577.6,293.48 L578.1,293.49 L578.6,293.49 L579.1,293.49 L579.6,293.49 L580.1,293.49 L580.6,293.49 L581.1,293.49 L581.6,293.5 L582.1,293.5 L582.6,293.5 L583.1,293.5 L583.6,293.5 L584.1,293.5 L584.6,293.5 L585.1,293.5 L585.6,293.5 L586.1,293.5 L586.6,293.49 L587.1,293.41 L587.6,293.28 L588.1,293.09 L588.6,292.85 L589.1,292.56 L589.6,292.22 L590.1,291.85 L590.6,291.45 L591.1,291.02 L591.6,290.57 L592.1,290.1 L592.6,289.49 L593.1,288.66 L593.6,287.63 L594.1,286.46 L594.6,285.19 L595.1,283.86 L595.6,282.52 L596.1,281.2 L596.6,279.95 L597.1,278.62 L597.6,277.18 L598.1,275.73 L598.6,274.37 L599.1,273.19 L599.6,272.24 L600.1,271.31 L600.6,270.42 L601.1,269.63 L601.6,269.04 L602.1,268.73 L602.6,268.77 L603.1,269.13 L603.6,269.74 L604.1,270.53 L604.6,271.39 L605.1,272.27 L605.6,273.12 L606.1,274.14 L606.6,275.3 L607.1,276.54 L607.6,277.82 L608.1,279.09 L608.6,280.29 L609.1,281.38 L609.6,282.3 L610.1,283.12 L610.6,283.92 L611.1,284.69 L611.6,285.43 L612.1,286.11 L612.6,286.72 L613.1,287.26 L613.6,287.71 L614.1,288.06 L614.6,288.36 L615.1,288.64 L615.6,288.9 L616.1,289.13 L616.6,289.35 L617.1,289.56 L617.6,289.75 L618.1,289.92 L618.6,290.09 L619.1,290.25 L619.6,290.4 L620.1,290.55 L620.6,290.7 L621.1,290.84 L621.6,290.99 L622.1,291.13 L622.6,291.28 L623.1,291.42 L623.6,291.57 L624.1,291.71 L624.6,291.85 L625.1,291.99 L625.6,292.12 L626.1,292.26 L626.6,292.38 L627.1,292.51 L627.6,292.63 L628.1,292.74 L628.6,292.85 L629.1,292.95 L629.6,293.05 L630.1,293.14 L630.6,293.22 L631.1,293.3 L631.6,293.36 L632.1,293.42 L632.6,293.47 L633.1,293.51 L633.6,293.54 L634.1,293.58 L634.6,293.61 L635.1,293.65 L635.6,293.68 L636.1,293.72 L636.6,293.75 L637.1,293.78 L637.6,293.82 L638.1,293.85 L638.6,293.88 L639.1,293.91 L639.6,293.94 L640.1,293.97 L640.6,294 L641.1,294.03 L641.6,294.06 L642.1,294.09 L642.6,294.12 L643.1,294.14 L643.6,294.17 L644.1,294.2 L644.6,294.22 L645.1,294.25 L645.6,294.28 L646.1,294.3 L646.6,294.33 L647.1,294.35 L647.6,294.37 L648.1,294.4 L648.6,294.42 L649.1,294.44 L649.6,294.46 L650.1,294.49 L650.6,294.51 L651.1,294.53 L651.6,294.55 L652.1,294.57 L652.6,294.59 L653.1,294.61 L653.6,294.63 L654.1,294.64 L654.6,294.66 L655.1,294.68 L655.6,294.69 L656.1,294.71 L656.6,294.73 L657.1,294.74 L657.6,294.76 L658.1,294.77 L658.6,294.79 L659.1,294.8 L659.6,294.81 L660.1,294.83 L660.6,294.84 L661.1,294.85 L661.6,294.86 L662.1,294.87 L662.6,294.88 L663.1,294.89 L663.6,294.9 L664.1,294.91 L664.6,294.92 L665.1,294.93 L665.6,294.94 L666.1,294.94 L666.6,294.95 L667.1,294.96 L667.6,294.96 L668.1,294.97 L668.6,294.97 L669.1,294.98 L669.6,294.98 L670.1,294.99 L670.6,294.99 L671.1,294.99 L671.6,294.99 L672.1,295 L672.6,295 L673.1,295 L673.6,295" stroke="#1f1fff" stroke-width="1.5" fill="none"/>
<path d="M387.6,293.5 L388.1,293.5 L388.6,293.5 L389.1,293.49 L389.6,293.49 L390.1,293.48 L390.6,293.48 L391.1,293.47 L391.6,293.46 L392.1,293.45 L392.6,293.44 L393.1,293.43 L393.6,293.42 L394.1,293.4 L394.6,293.39 L395.1,293.38 L395.6,293.36 L396.1,293.35 L396.6,293.33 L397.1,293.31 L397.6,293.3 L398.1,293.28 L398.6,293.26 L399.1,293.24 L399.6,293.22 L400.1,293.2 L400.6,293.18 L401.1,293.16 L401.6,293.14 L402.1,293.12 L402.6,293.1 L403.1,293.08 L403.6,293.06 L404.1,293.04 L404.6,293.02 L405.1,293 L405.6,292.97 L406.1,292.95 L406.6,292.93 L407.1,292.9 L407.6,292.87 L408.1,292.85 L408.6,292.82 L409.1,292.79 L409.6,292.76 L410.1,292.72 L410.6,292.69 L411.1,292.65 L411.6,292.62 L412.1,292.58 L412.6,292.54 L413.1,292.5 L413.6,292.46 L414.1,292.42 L414.6,292.37 L415.1,292.33 L415.6,292.28 L416.1,292.23 L416.6,292.18 L417.1,292.13 L417.6,292.08 L418.1,292.02 L418.6,291.97 L419.1,291.91 L419.6,291.85 L420.1,291.79 L420.6,291.72 L421.1,291.65 L421.6,291.57 L422.1,291.49 L422.6,291.4 L423.1,291.31 L423.6,291.21 L424.1,291.11 L424.6,291 L425.1,290.88 L425.6,290.76 L426.1,290.64 L426.6,290.51 L427.1,290.37 L427.6,290.23 L428.1,290.09 L428.6,289.94 L429.1,289.79 L429.6,289.63 L430.1,289.47 L430.6,289.29 L431.1,289.09 L431.6,288.87 L432.1,288.64 L432.6,288.39 L433.1,288.13 L433.6,287.85 L434.1,287.56 L434.6,287.26 L435.1,286.95 L435.6,286.63 L436.1,286.3 L436.6,285.93 L437.1,285.54 L437.6,285.11 L438.1,284.63 L438.6,284.1 L439.1,283.47 L439.6,282.71 L440.1,281.83 L440.6,280.84 L441.1,279.73 L441.6,278.35 L442.1,276.77 L442.6,275.11 L443.1,273.5 L443.6,271.88 L444.1,270.16 L444.6,268.82 L445.1,268.19 L445.6,267.83 L446.1,267.56 L446.6,267.29 L447.1,266.9 L447.6,266.37 L448.1,265.7 L448.6,264.81 L449.1,263.51 L449.6,261.55 L450.1,258.98 L450.6,255.02 L451.1,250 L451.6,245.76 L452.1,242.25 L452.6,238.89 L453.1,236.04 L453.6,234.2 L454.1,233.43 L454.6,232.94 L455.1,232.56 L455.6,232.11 L456.1,231.55 L456.6,230.98 L457.1,230.29 L457.6,229.4 L458.1,228.03 L458.6,226.08 L459.1,223.69 L459.6,221 L460.1,217.38 L460.6,212.8 L461.1,208.27 L461.6,204.79 L462.1,201.72 L462.6,200.2 L463.1,200.89 L463.6,202.45 L464.1,204.8 L464.6,208.6 L465.1,213.09 L465.6,217.59 L466.1,222.43 L466.6,227.84 L467.1,234.27 L467.6,241.6 L468.1,248.22 L468.6,254.07 L469.1,258.85 L469.6,262.51 L470.1,264.57 L470.6,265.87 L471.1,266.36 L471.6,266.64 L472.1,266.9 L472.6,267.16 L473.1,267.39 L473.6,267.61 L474.1,267.84 L474.6,268.1 L475.1,268.43 L475.6,268.86 L476.1,269.45 L476.6,270.16 L477.1,270.94 L477.6,271.77 L478.1,272.76 L478.6,273.9 L479.1,275.09 L479.6,276.22 L480.1,277.18 L480.6,278.05 L481.1,278.89 L481.6,279.69 L482.1,280.47 L482.6,281.21 L483.1,281.92 L483.6,282.6 L484.1,283.24 L484.6,283.84 L485.1,284.41 L485.6,284.97 L486.1,285.53 L486.6,286.08 L487.1,286.61 L487.6,287.13 L488.1,287.61 L488.6,288.06 L489.1,288.46 L489.6,288.82 L490.1,289.12 L490.6,289.36 L491.1,289.55 L491.6,289.73 L492.1,289.89 L492.6,290.05 L493.1,290.19 L493.6,290.33 L494.1,290.45 L494.6,290.57 L495.1,290.68 L495.6,290.79 L496.1,290.88 L496.6,290.98 L497.1,291.06 L497.6,291.15 L498.1,291.22 L498.6,291.3 L499.1,291.37 L499.6,291.44 L500.1,291.51 L500.6,291.58 L501.1,291.65 L501.6,291.71 L502.1,291.77 L502.6,291.82 L503.1,291.87 L503.6,291.91 L504.1,291.95 L504.6,291.98 L505.1,292 L505.6,292.02 L506.1,292.04 L506.6,292.06 L507.1,292.08 L507.6,292.1 L508.1,292.12 L508.6,292.14 L509.1,292.16 L509.6,292.18 L510.1,292.19 L510.6,292.21 L511.1,292.23 L511.6,292.25 L512.1,292.27 L512.6,292.28 L513.1,292.3 L513.6,292.32 L514.1,292.33 L514.6,292.35 L515.1,292.37 L515.6,292.39 L516.1,292.4 L516.6,292.42 L517.1,292.44 L517.6,292.45 L518.1,292.47 L518.6,292.48 L519.1,292.5 L519.6,292.52 L520.1,292.53 L520.6,292.55 L521.1,292.56 L521.6,292.58 L522.1,292.59 L522.6,292.61 L523.1,292.62 L523.6,292.64 L524.1,292.65 L524.6,292.66 L525.1,292.68 L525.6,292.69 L526.1,292.71 L526.6,292.72 L527.1,292.73 L527.6,292.75 L528.1,292.76 L528.6,292.77 L529.1,292.79 L529.6,292.8 L530.1,292.81 L530.6,292.83 L531.1,292.84 L531.6,292.85 L532.1,292.86 L532.6,292.88 L533.1,292.89 L533.6,292.9 L534.1,292.91 L534.6,292.92 L535.1,292.94 L535.6,292.95 L536.1,292.96 L536.6,292.97 L537.1,292.98 L537.6,292.99 L538.1,293 L538.6,293.01 L539.1,293.02 L539.6,293.03 L540.1,293.04 L540.6,293.05 L541.1,293.06 L541.6,293.07 L542.1,293.08 L542.6,293.09 L543.1,293.1 L543.6,293.11 L544.1,293.12 L544.6,293.13 L545.1,293.14 L545.6,293.15 L546.1,293.16 L546.6,293.17 L547.1,293.18 L547.6,293.18 L548.1,293.19 L548.6,293.2 L549.1,293.21 L549.6,293.22 L550.1,293.23 L550.6,293.23 L551.1,293.24 L551.6,293.25 L552.1,293.26 L552.6,293.26 L553.1,293.27 L553.6,293.28 L554.1,293.28 L554.6,293.29 L555.1,293.3 L555.6,293.3 L556.1,293.31 L556.6,293.32 L557.1,293.32 L557.6,293.33 L558.1,293.34 L558.6,293.34 L559.1,293.35 L559.6,293.35 L560.1,293.36 L560.6,293.36 L561.1,293.37 L561.6,293.37 L562.1,293.38 L562.6,293.38 L563.1,293.39 L563.6,293.39 L564.1,293.4 L564.6,293.4 L565.1,293.41 L565.6,293.41 L566.1,293.42 L566.6,293.42 L567.1,293.43 L567.6,293.43 L568.1,293.43 L568.6,293.44 L569.1,293.44 L569.6,293.44 L570.1,293.45 L570.6,293.45 L571.1,293.45 L571.6,293.46 L572.1,293.46 L572.6,293.46 L573.1,293.46 L573.6,293.47 L574.1,293.47 L574.6,293.47 L575.1,293.47 L575.6,293.48 L576.1,293.48 L576.6,293.48 L577.1,293.48 L577.6,293.48 L578.1,293.49 L578.6,293.49 L579.1,293.49 L579.6,293.49 L580.1,293.49 L580.6,293.49 L581.1,293.49 L581.6,293.5 L582.1,293.5 L582.6,293.5 L583.1,293.5 L583.6,293.5 L584.1,293.5 L584.6,293.5 L585.1,293.5 L585.6,293.5 L586.1,293.5 L586.6,293.49 L587.1,293.41 L587.6,293.28 L588.1,293.08 L588.6,292.84 L589.1,292.55 L589.6,292.21 L590.1,291.84 L590.6,291.44 L591.1,291.02 L591.6,290.57 L592.1,290.1 L592.6,289.51 L593.1,288.71 L593.6,287.74 L594.1,286.63 L594.6,285.43 L595.1,284.18 L595.6,282.9 L596.1,281.66 L596.6,280.46 L597.1,279.18 L597.6,277.8 L598.1,276.41 L598.6,275.1 L599.1,273.96 L599.6,273.06 L600.1,272.18 L600.6,271.33 L601.1,270.58 L601.6,270.03 L602.1,269.73 L602.6,269.76 L603.1,270.11 L603.6,270.69 L604.1,271.43 L604.6,272.25 L605.1,273.08 L605.6,273.9 L606.1,274.89 L606.6,276.01 L607.1,277.22 L607.6,278.46 L608.1,279.69 L608.6,280.86 L609.1,281.91 L609.6,282.8 L610.1,283.58 L610.6,284.35 L611.1,285.08 L611.6,285.77 L612.1,286.42 L612.6,287 L613.1,287.51 L613.6,287.93 L614.1,288.26 L614.6,288.54 L615.1,288.8 L615.6,289.03 L616.1,289.25 L616.6,289.46 L617.1,289.64 L617.6,289.82 L618.1,289.98 L618.6,290.14 L619.1,290.28 L619.6,290.43 L620.1,290.57 L620.6,290.7 L621.1,290.84 L621.6,290.99 L622.1,291.13 L622.6,291.27 L623.1,291.41 L623.6,291.56 L624.1,291.7 L624.6,291.84 L625.1,291.97 L625.6,292.11 L626.1,292.24 L626.6,292.37 L627.1,292.5 L627.6,292.62 L628.1,292.73 L628.6,292.84 L629.1,292.95 L629.6,293.04 L630.1,293.13 L630.6,293.22 L631.1,293.29 L631.6,293.36 L632.1,293.42 L632.6,293.47 L633.1,293.51 L633.6,293.54 L634.1,293.58 L634.6,293.61 L635.1,293.65 L635.6,293.68 L636.1,293.72 L636.6,293.75 L637.1,293.78 L637.6,293.82 L638.1,293.85 L638.6,293.88 L639.1,293.91 L639.6,293.94 L640.1,293.97 L640.6,294 L641.1,294.03 L641.6,294.06 L642.1,294.09 L642.6,294.12 L643.1,294.14 L643.6,294.17 L644.1,294.2 L644.6,294.22 L645.1,294.25 L645.6,294.28 L646.1,294.3 L646.6,294.33 L647.1,294.35 L647.6,294.37 L648.1,294.4 L648.6,294.42 L649.1,294.44 L649.6,294.46 L650.1,294.49 L650.6,294.51 L651.1,294.53 L651.6,294.55 L652.1,294.57 L652.6,294.59 L653.1,294.61 L653.6,294.63 L654.1,294.64 L654.6,294.66 L655.1,294.68 L655.6,294.69 L656.1,294.71 L656.6,294.73 L657.1,294.74 L657.6,294.76 L658.1,294.77 L658.6,294.79 L659.1,294.8 L659.6,294.81 L660.1,294.83 L660.6,294.84 L661.1,294.85 L661.6,294.86 L662.1,294.87 L662.6,294.88 L663.1,294.89 L663.6,294.9 L664.1,294.91 L664.6,294.92 L665.1,294.93 L665.6,294.94 L666.1,294.94 L666.6,294.95 L667.1,294.96 L667.6,294.96 L668.1,294.97 L668.6,294.97 L669.1,294.98 L669.6,294.98 L670.1,294.99 L670.6,294.99 L671.1,294.99 L671.6,294.99 L672.1,295 L672.6,295 L673.1,295 L673.6,295" stroke="#f03c3c" stroke-width="1.2" fill="none"/>
<path d="M387.6,336.82 L388.3,334.52 L389,336.01 L389.7,335.52 L390.4,335.57 L391.1,335.69 L391.8,334.79 L392.5,335.68 L393.2,335.36 L393.9,337.45 L394.6,335.9 L395.3,335.61 L396,335.64 L396.7,335.45 L397.4,335.25 L398.1,335.58 L398.8,336.01 L399.5,335.65 L400.2,336.24 L400.9,335.66 L401.6,335.77 L402.3,336.52 L403,336.02 L403.7,335.49 L404.4,335.65 L405.1,336 L405.8,336.69 L406.5,335.59 L407.2,335.6 L407.9,336.21 L408.6,335.26 L409.3,335.55 L410,336.14 L410.7,335.98 L411.4,335.73 L412.1,336.01 L412.8,334.26 L413.5,336.17 L414.2,335.18 L414.9,334.82 L415.6,335.78 L416.3,335.99 L417,335.41 L417.7,335.08 L418.4,335.63 L419.1,335.58 L419.8,336.3 L420.5,335.97 L421.2,335.68 L421.9,336.14 L422.6,335.47 L423.3,335.1 L424,335.85 L424.7,335.84 L425.4,335.43 L426.1,335.13 L426.8,335.63 L427.5,334.26 L428.2,335.84 L428.9,335.72 L429.6,334.64 L430.3,335.48 L431,334.95 L431.7,335.79 L432.4,334.38 L433.1,334.92 L433.8,335.71 L434.5,335.91 L435.2,334.23 L435.9,335.04 L436.6,335.42 L437.3,334.93 L438,336 L438.7,334.56 L439.4,335.28 L440.1,334.5 L440.8,335.64 L441.5,334.82 L442.2,334.51 L442.9,333.69 L443.6,335.17 L444.3,334.4 L445,334.01 L445.7,333.74 L446.4,332.81 L447.1,331.63 L447.8,330.64 L448.5,329.49 L449.2,329.15 L449.9,325.37 L450.6,322.73 L451.3,319.66 L452,316.34 L452.7,313.39 L453.4,309.5 L454.1,307.1 L454.8,307.77 L455.5,308.79 L456.2,309.35 L456.9,312.4 L457.6,316.29 L458.3,321.11 L459,325.61 L459.7,331.36 L460.4,335.74 L461.1,339.14 L461.8,340.82 L462.5,342.35 L463.2,343.01 L463.9,344.77 L464.6,344.26 L465.3,343.54 L466,340.73 L466.7,340.24 L467.4,338.33 L468.1,337.42 L468.8,335.37 L469.5,336.7 L470.2,336.34 L470.9,334.91 L471.6,334.82 L472.3,334.65 L473,334.85 L473.7,334.94 L474.4,335.42 L475.1,334.04 L475.8,334.14 L476.5,333.2 L477.2,333.27 L477.9,332.11 L478.6,332.03 L479.3,330.77 L480,331.25 L480.7,331.02 L481.4,332.28 L482.1,331.97 L482.8,331.65 L483.5,331.88 L484.2,332.75 L484.9,332.56 L485.6,332.79 L486.3,333.72 L487,334.9 L487.7,333.7 L488.4,333.69 L489.1,333.51 L489.8,333.54 L490.5,334.55 L491.2,334.79 L491.9,334.43 L492.6,334.66 L493.3,334.61 L494,334.67 L494.7,333.88 L495.4,334.46 L496.1,334.78 L496.8,334.37 L497.5,334.55 L498.2,334.4 L498.9,334.66 L499.6,335.27 L500.3,334.66 L501,334.8 L501.7,335.31 L502.4,335.24 L503.1,335.78 L503.8,333.91 L504.5,335.4 L505.2,334.74 L505.9,335.07 L506.6,335.44 L507.3,335.57 L508,335.57 L508.7,335.14 L509.4,335.88 L510.1,334.95 L510.8,335.03 L511.5,335.52 L512.2,334.86 L512.9,336.23 L513.6,335.67 L514.3,336.26 L515,335.17 L515.7,335 L516.4,335.29 L517.1,335.58 L517.8,334.93 L518.5,335.43 L519.2,335.24 L519.9,336.07 L520.6,334.94 L521.3,335.8 L522,334.96 L522.7,334.81 L523.4,334.95 L524.1,334.72 L524.8,335.39 L525.5,335.84 L526.2,335.42 L526.9,335.65 L527.6,336.16 L528.3,335.49 L529,335.45 L529.7,335.22 L530.4,334.56 L531.1,335.75 L531.8,334.5 L532.5,335.71 L533.2,335.38 L533.9,335.95 L534.6,335.36 L535.3,334.98 L536,335.57 L536.7,335.12 L537.4,335.31 L538.1,335.42 L538.8,335.33 L539.5,335.31 L540.2,334.98 L540.9,335.31 L541.6,334.33 L542.3,335.32 L543,334.8 L543.7,335.96 L544.4,336.03 L545.1,334.42 L545.8,335.46 L546.5,335.33 L547.2,334.86 L547.9,335.65 L548.6,335.15 L549.3,334.49 L550,335.24 L550.7,335.3 L551.4,335.42 L552.1,334.75 L552.8,335.66 L553.5,335.72 L554.2,334.77 L554.9,335.01 L555.6,335.29 L556.3,335.04 L557,336.19 L557.7,335.41 L558.4,334.79 L559.1,334.9 L559.8,335.25 L560.5,336.42 L561.2,335.17 L561.9,335.31 L562.6,335.49 L563.3,335.2 L564,336.35 L564.7,334.93 L565.4,335.55 L566.1,335.25 L566.8,335.46 L567.5,334.55 L568.2,336 L568.9,335.04 L569.6,335.1 L570.3,334.6 L571,334.68 L571.7,335.31 L572.4,335.5 L573.1,335.36 L573.8,335.57 L574.5,335.3 L575.2,334.93 L575.9,335.31 L576.6,335.17 L577.3,334.79 L578,335.18 L578.7,335.43 L579.4,334.88 L580.1,334.56 L580.8,335.06 L581.5,335.62 L582.2,334.54 L582.9,334.56 L583.6,334.51 L584.3,335.15 L585,333.59 L585.7,334.66 L586.4,335.03 L587.1,333.99 L587.8,335.1 L588.5,334.59 L589.2,334.01 L589.9,334.34 L590.6,333.43 L591.3,333.87 L592,335.02 L592.7,333.62 L593.4,334.94 L594.1,333.93 L594.8,334.42 L595.5,333.85 L596.2,332.41 L596.9,332.78 L597.6,332.59 L598.3,331.32 L599,330.65 L599.7,331.04 L600.4,330.14 L601.1,329.19 L601.8,329.28 L602.5,329.66 L603.2,328.66 L603.9,329.11 L604.6,329.28 L605.3,328.54 L606,328.11 L606.7,328.29 L607.4,329.27 L608.1,330.13 L608.8,330.26 L609.5,330.83 L610.2,330.73 L610.9,331.45 L611.6,331.33 L612.3,331.65 L613,331.41 L613.7,331.51 L614.4,332.3 L615.1,332.22 L615.8,332.53 L616.5,333.57 L617.2,333.39 L617.9,335.1 L618.6,334.29 L619.3,333.69 L620,334.55 L620.7,334.47 L621.4,334.07 L622.1,335.06 L622.8,334.19 L623.5,333.1 L624.2,335.07 L624.9,334.41 L625.6,335.51 L626.3,334.48 L627,334.26 L627.7,335.67 L628.4,334.4 L629.1,335.08 L629.8,335.74 L630.5,335.11 L631.2,335.05 L631.9,335.18 L632.6,335.59 L633.3,334.8 L634,335.55 L634.7,335.57 L635.4,336.48 L636.1,335.18 L636.8,334.92 L637.5,335.78 L638.2,335.24 L638.9,335.62 L639.6,335.57 L640.3,336.12 L641,335.23 L641.7,335.54 L642.4,334.34 L643.1,335.2 L643.8,336.44 L644.5,335.35 L645.2,335.37 L645.9,335.13 L646.6,336.06 L647.3,335.88 L648,335.22 L648.7,336.17 L649.4,335.98 L650.1,336.25 L650.8,335.57 L651.5,336.78 L652.2,336.13 L652.9,335.89 L653.6,335.71 L654.3,335.86 L655,336.43 L655.7,335.88 L656.4,336.57 L657.1,336.33 L657.8,336.73 L658.5,336.47 L659.2,336.05 L659.9,335.13 L660.6,336.25 L661.3,336.51 L662,336.2 L662.7,336.41 L663.4,335.9 L664.1,335.96 L664.8,335.68 L665.5,336.84 L666.2,336.25 L666.9,335.93 L667.6,335.51 L668.3,336.11 L669,336.91 L669.7,336.42 L670.4,335.83 L671.1,336.91 L671.8,336.91 L672.5,336.69 L673.2,336.59 L673.9,336.78" stroke="#000" stroke-width="1.3" fill="none"/>
<text x="525.8" y="39.7" font-size="14.7" fill="#ff0000" text-anchor="start" textLength="97.5" lengthAdjust="spacingAndGlyphs" >Circular X-ray</text>
<text x="635.6" y="42.7" style="font-family:Liberation Serif,serif;font-style:italic" font-size="18.8" fill="#ff0000" textLength="15.6" lengthAdjust="spacingAndGlyphs">M</text>
<path d="M639.5,27.8 L650.5,27.8" stroke="#ff0000" stroke-width="1"/>
<path d="M649.3,29.5 L651.5,27.8 L649.3,26.1" fill="none" stroke="#ff0000" stroke-width="1" stroke-linejoin="miter"/>
<rect x="633.8" y="45.3" width="21.9" height="21.8" fill="#5b9bd5" stroke="#3f74b3" stroke-width="1.2"/>
<rect x="633.8" y="77.7" width="21.9" height="21.8" fill="#5b9bd5" stroke="#3f74b3" stroke-width="1.2"/>
<path d="M636,56 L655.2,56" stroke="#e61e32" stroke-width="1.7"/>
<path d="M639.4,52.8 L635.2,56 L639.4,59.2" fill="none" stroke="#e61e32" stroke-width="1.6" stroke-linejoin="miter"/>
<path d="M634.3,88.4 L653.5,88.4" stroke="#1428dc" stroke-width="1.6"/>
<path d="M650.4,91.6 L654.6,88.4 L650.4,85.2" fill="none" stroke="#1428dc" stroke-width="1.6" stroke-linejoin="miter"/>
<path d="M536.1,74.64 L536.5,74.69 L536.9,74.55 L537.3,74.2 L537.7,73.69 L538.1,73.05 L538.5,72.34 L538.9,71.6 L539.3,70.89 L539.7,70.28 L540.1,69.8 L540.5,69.5 L540.9,69.4 L541.3,69.5 L541.7,69.8 L542.1,70.28 L542.5,70.89 L542.9,71.6 L543.3,72.34 L543.7,73.05 L544.1,73.69 L544.5,74.2 L544.9,74.55 L545.3,74.69 L545.7,74.64 L546.1,74.38 L546.5,73.94 L546.9,73.35 L547.3,72.67 L547.7,71.93 L548.1,71.2 L548.5,70.54 L548.9,70 L549.3,69.62 L549.7,69.42 L550.1,69.43 L550.5,69.65 L550.9,70.05 L551.3,70.6 L551.7,71.27 L552.1,72 L552.5,72.74 L552.9,73.42 L553.3,73.99 L553.7,74.41 L554.1,74.65 L554.5,74.69 L554.9,74.52 L555.3,74.16 L555.7,73.63 L556.1,72.98 L556.5,72.26 L556.9,71.53 L557.3,70.83 L557.7,70.23 L558.1,69.77 L558.5,69.48 L558.9,69.4 L559.3,69.52 L559.7,69.84 L560.1,70.34 L560.5,70.96 L560.9,71.67 L561.3,72.41 L561.7,73.12 L562.1,73.75 L562.5,74.24 L562.9,74.57 L563.3,74.7 L563.7,74.62 L564.1,74.34 L564.5,73.89 L564.9,73.29 L565.3,72.59 L565.7,71.86 L566.1,71.13 L566.5,70.48 L566.9,69.95 L567.3,69.59 L567.7,69.41 L568.1,69.44 L568.5,69.68 L568.9,70.1 L569.3,70.67 L569.7,71.34 L570.1,72.08 L570.5,72.81 L570.9,73.48 L571.3,74.04 L571.7,74.45 L572.1,74.67 L572.5,74.68 L572.9,74.49 L573.3,74.11 L573.7,73.57 L574.1,72.91 L574.5,72.19 L574.9,71.45 L575.3,70.76 L575.7,70.17 L576.1,69.73 L576.5,69.47 L576.9,69.4 L577.3,69.55 L577.7,69.89 L578.1,70.39 L578.5,71.03 L578.9,71.74 L579.3,72.48 L579.7,73.19 L580.1,73.81 L580.5,74.29 L580.9,74.59 L581.3,74.7 L581.7,74.6 L582.1,74.31 L582.5,73.83 L582.9,73.22 L583.3,72.52 L583.7,71.78 L584.1,71.06 L584.5,70.42 L584.9,69.91 L585.3,69.56 L585.7,69.41 L586.1,69.46 L586.5,69.71 L586.9,70.15 L587.3,70.73 L587.7,71.42 L588.1,72.15 L588.5,72.88 L588.9,73.54 L589.3,74.09 L589.7,74.48 L590.1,74.68 L590.5,74.67 L590.9,74.46 L591.3,74.07 L591.7,73.51 L592.1,72.84 L592.5,72.11 L592.9,71.38 L593.3,70.7 L593.7,70.12 L594.1,69.69 L594.5,69.45 L594.9,69.41 L595.3,69.57 L595.7,69.93 L596.1,70.45 L596.5,71.1 L596.9,71.82 L597.3,72.56 L597.7,73.26 L598.1,73.86 L598.5,74.32 L598.9,74.61 L599.3,74.7 L599.7,74.58 L600.1,74.27 L600.5,73.78 L600.9,73.16 L601.3,72.45 L601.7,71.71 L602.1,71 L602.5,70.36 L602.9,69.87 L603.3,69.54 L603.7,69.4 L604.1,69.47 L604.5,69.75 L604.9,70.2 L605.3,70.8 L605.7,71.49 L606.1,72.23 L606.5,72.95 L606.9,73.6 L607.3,74.14 L607.7,74.51 L608.1,74.69 L608.5,74.66 L608.9,74.43 L609.3,74.02 L609.7,73.45 L610.1,72.77 L610.5,72.04 L610.9,71.31 L611.3,70.64 L611.7,70.07 L612.1,69.66 L612.5,69.44 L612.9,69.42 L613.3,69.6 L613.7,69.98 L614.1,70.51 L614.5,71.17 L614.9,71.89 L615.3,72.63 L615.7,73.32 L616.1,73.91 L616.5,74.36 L616.9,74.63 L617.3,74.7 L617.7,74.56 L618.1,74.22 L618.5,73.72 L618.9,73.09 L619.3,72.37 L619.7,71.63 L620.1,70.93 L620.5,70.31 L620.9,69.82 L621.3,69.51 L621.7,69.4 L622.1,69.49 L622.5,69.78 L622.9,70.25 L623.3,70.86 L623.7,71.56 L624.1,72.3 L624.5,73.02 L624.9,73.66 L625.3,74.18 L625.7,74.53 L626.1,74.69 L626.5,74.65" stroke="#000" stroke-width="1.3" fill="none"/>
<path d="M626.5,74.7 Q628,72.5 630,72" stroke="#000" stroke-width="1.3" fill="none"/>
<path d="M633.5,71.7 L628.73,74.29 L628.32,70.11 Z" fill="#000"/>
<path d="M589.6,62.5 C589.4,52 586,47.6 582.2,47.7 C577.5,47.8 574.6,60 574.6,72 C574.6,85 577.5,96.6 582.4,96.7 C587,96.8 589.5,88 590,81" stroke="#ff0000" stroke-width="1.3" fill="none"/>
<path d="M593.28,85.97 L590,80.4 L586.49,85.83" fill="none" stroke="#ff0000" stroke-width="1.4" stroke-linejoin="miter"/>
<text x="526" y="210.7" font-size="14.7" fill="#ff0000" text-anchor="start" textLength="86.2" lengthAdjust="spacingAndGlyphs" >Linear X-ray</text>
<text x="635.6" y="213.4" style="font-family:Liberation Serif,serif;font-style:italic" font-size="18.8" fill="#ff0000" textLength="15.6" lengthAdjust="spacingAndGlyphs">M</text>
<path d="M639.5,197.4 L650.5,197.4" stroke="#ff0000" stroke-width="1"/>
<path d="M649.3,199.1 L651.5,197.4 L649.3,195.7" fill="none" stroke="#ff0000" stroke-width="1" stroke-linejoin="miter"/>
<rect x="633.8" y="215.5" width="21.9" height="22" fill="#5b9bd5" stroke="#3f74b3" stroke-width="1.2"/>
<rect x="633.8" y="248.3" width="21.9" height="22" fill="#5b9bd5" stroke="#3f74b3" stroke-width="1.2"/>
<path d="M635.5,226.6 L654,226.6" stroke="#ff0000" stroke-width="1.5"/>
<path d="M639,223.6 L635,226.6 L639,229.6" fill="none" stroke="#ff0000" stroke-width="1.5" stroke-linejoin="miter"/>
<path d="M650.5,229.6 L654.5,226.6 L650.5,223.6" fill="none" stroke="#ff0000" stroke-width="1.5" stroke-linejoin="miter"/>
<path d="M645.1,249.8 L645.1,269" stroke="#1414e6" stroke-width="1.5"/>
<path d="M648.1,253.5 L645.1,249.5 L642.1,253.5" fill="none" stroke="#1414e6" stroke-width="1.5" stroke-linejoin="miter"/>
<path d="M642.1,265.3 L645.1,269.3 L648.1,265.3" fill="none" stroke="#1414e6" stroke-width="1.5" stroke-linejoin="miter"/>
<path d="M536.1,245.34 L536.5,245.18 L536.9,244.83 L537.3,244.33 L537.7,243.7 L538.1,243 L538.5,242.28 L538.9,241.6 L539.3,241 L539.7,240.54 L540.1,240.25 L540.5,240.15 L540.9,240.25 L541.3,240.54 L541.7,241 L542.1,241.6 L542.5,242.28 L542.9,243 L543.3,243.7 L543.7,244.33 L544.1,244.83 L544.5,245.18 L544.9,245.34 L545.3,245.3 L545.7,245.07 L546.1,244.66 L546.5,244.1 L546.9,243.44 L547.3,242.73 L547.7,242.02 L548.1,241.36 L548.5,240.81 L548.9,240.41 L549.3,240.19 L549.7,240.16 L550.1,240.34 L550.5,240.7 L550.9,241.21 L551.3,241.84 L551.7,242.55 L552.1,243.27 L552.5,243.94 L552.9,244.53 L553.3,244.98 L553.7,245.26 L554.1,245.35 L554.5,245.24 L554.9,244.94 L555.3,244.47 L555.7,243.86 L556.1,243.18 L556.5,242.46 L556.9,241.76 L557.3,241.14 L557.7,240.64 L558.1,240.31 L558.5,240.16 L558.9,240.21 L559.3,240.45 L559.7,240.87 L560.1,241.44 L560.5,242.1 L560.9,242.82 L561.3,243.53 L561.7,244.18 L562.1,244.72 L562.5,245.11 L562.9,245.32 L563.3,245.33 L563.7,245.15 L564.1,244.78 L564.5,244.25 L564.9,243.61 L565.3,242.91 L565.7,242.19 L566.1,241.52 L566.5,240.94 L566.9,240.49 L567.3,240.23 L567.7,240.15 L568.1,240.28 L568.5,240.59 L568.9,241.07 L569.3,241.68 L569.7,242.37 L570.1,243.09 L570.5,243.78 L570.9,244.4 L571.3,244.88 L571.7,245.21 L572.1,245.35 L572.5,245.28 L572.9,245.03 L573.3,244.6 L573.7,244.02 L574.1,243.35 L574.5,242.64 L574.9,241.93 L575.3,241.28 L575.7,240.75 L576.1,240.37 L576.5,240.18 L576.9,240.18 L577.3,240.37 L577.7,240.75 L578.1,241.28 L578.5,241.93 L578.9,242.64 L579.3,243.35 L579.7,244.02 L580.1,244.6 L580.5,245.03 L580.9,245.28 L581.3,245.35 L581.7,245.21 L582.1,244.88 L582.5,244.4 L582.9,243.78 L583.3,243.09 L583.7,242.37 L584.1,241.68 L584.5,241.07 L584.9,240.59 L585.3,240.28 L585.7,240.15 L586.1,240.23 L586.5,240.49 L586.9,240.94 L587.3,241.52 L587.7,242.19 L588.1,242.91 L588.5,243.61 L588.9,244.25 L589.3,244.78 L589.7,245.15 L590.1,245.33 L590.5,245.32 L590.9,245.11 L591.3,244.72 L591.7,244.18 L592.1,243.53 L592.5,242.82 L592.9,242.1 L593.3,241.44 L593.7,240.87 L594.1,240.45 L594.5,240.21 L594.9,240.16 L595.3,240.31 L595.7,240.64 L596.1,241.14 L596.5,241.76 L596.9,242.46 L597.3,243.18 L597.7,243.86 L598.1,244.47 L598.5,244.94 L598.9,245.24 L599.3,245.35 L599.7,245.26 L600.1,244.98 L600.5,244.53 L600.9,243.94 L601.3,243.27 L601.7,242.55 L602.1,241.84 L602.5,241.21 L602.9,240.7 L603.3,240.34 L603.7,240.16 L604.1,240.19 L604.5,240.41 L604.9,240.81 L605.3,241.36 L605.7,242.02 L606.1,242.73 L606.5,243.44 L606.9,244.1 L607.3,244.66 L607.7,245.07 L608.1,245.3 L608.5,245.34 L608.9,245.18 L609.3,244.83 L609.7,244.33 L610.1,243.7 L610.5,243 L610.9,242.28 L611.3,241.6 L611.7,241 L612.1,240.54 L612.5,240.25 L612.9,240.15 L613.3,240.25 L613.7,240.54 L614.1,241 L614.5,241.6 L614.9,242.28 L615.3,243 L615.7,243.7 L616.1,244.33 L616.5,244.83 L616.9,245.18 L617.3,245.34 L617.7,245.3 L618.1,245.07 L618.5,244.66 L618.9,244.1 L619.3,243.44 L619.7,242.73 L620.1,242.02 L620.5,241.36 L620.9,240.81 L621.3,240.41 L621.7,240.19 L622.1,240.16 L622.5,240.34 L622.9,240.7 L623.3,241.21 L623.7,241.84 L624.1,242.55 L624.5,243.27 L624.9,243.94 L625.3,244.53 L625.7,244.98 L626.1,245.26 L626.5,245.35" stroke="#000" stroke-width="1.3" fill="none"/>
<path d="M626.5,245.2 Q628,243 630,242.6" stroke="#000" stroke-width="1.3" fill="none"/>
<path d="M633.8,242.3 L628.97,244.77 L628.66,240.58 Z" fill="#000"/>
<path d="M582.4,216.5 L582.4,268.6" stroke="#ff0000" stroke-width="1.3"/>
<path d="M585.8,221.8 L582.4,216 L579,221.8" fill="none" stroke="#ff0000" stroke-width="1.3" stroke-linejoin="miter"/>
<path d="M579,263.5 L582.4,269.3 L585.8,263.5" fill="none" stroke="#ff0000" stroke-width="1.3" stroke-linejoin="miter"/>
<text x="586.9" y="236.9" style="font-family:Liberation Serif,serif;font-style:italic" font-size="17.6" fill="#ff0000" textLength="11" lengthAdjust="spacingAndGlyphs">E</text>
<path d="M589,221.3 L597,221.3" stroke="#ff0000" stroke-width="0.9"/>
<path d="M595.8,222.8 L597.8,221.3 L595.8,219.8" fill="none" stroke="#ff0000" stroke-width="0.9" stroke-linejoin="miter"/>
</svg>
</body></html>
